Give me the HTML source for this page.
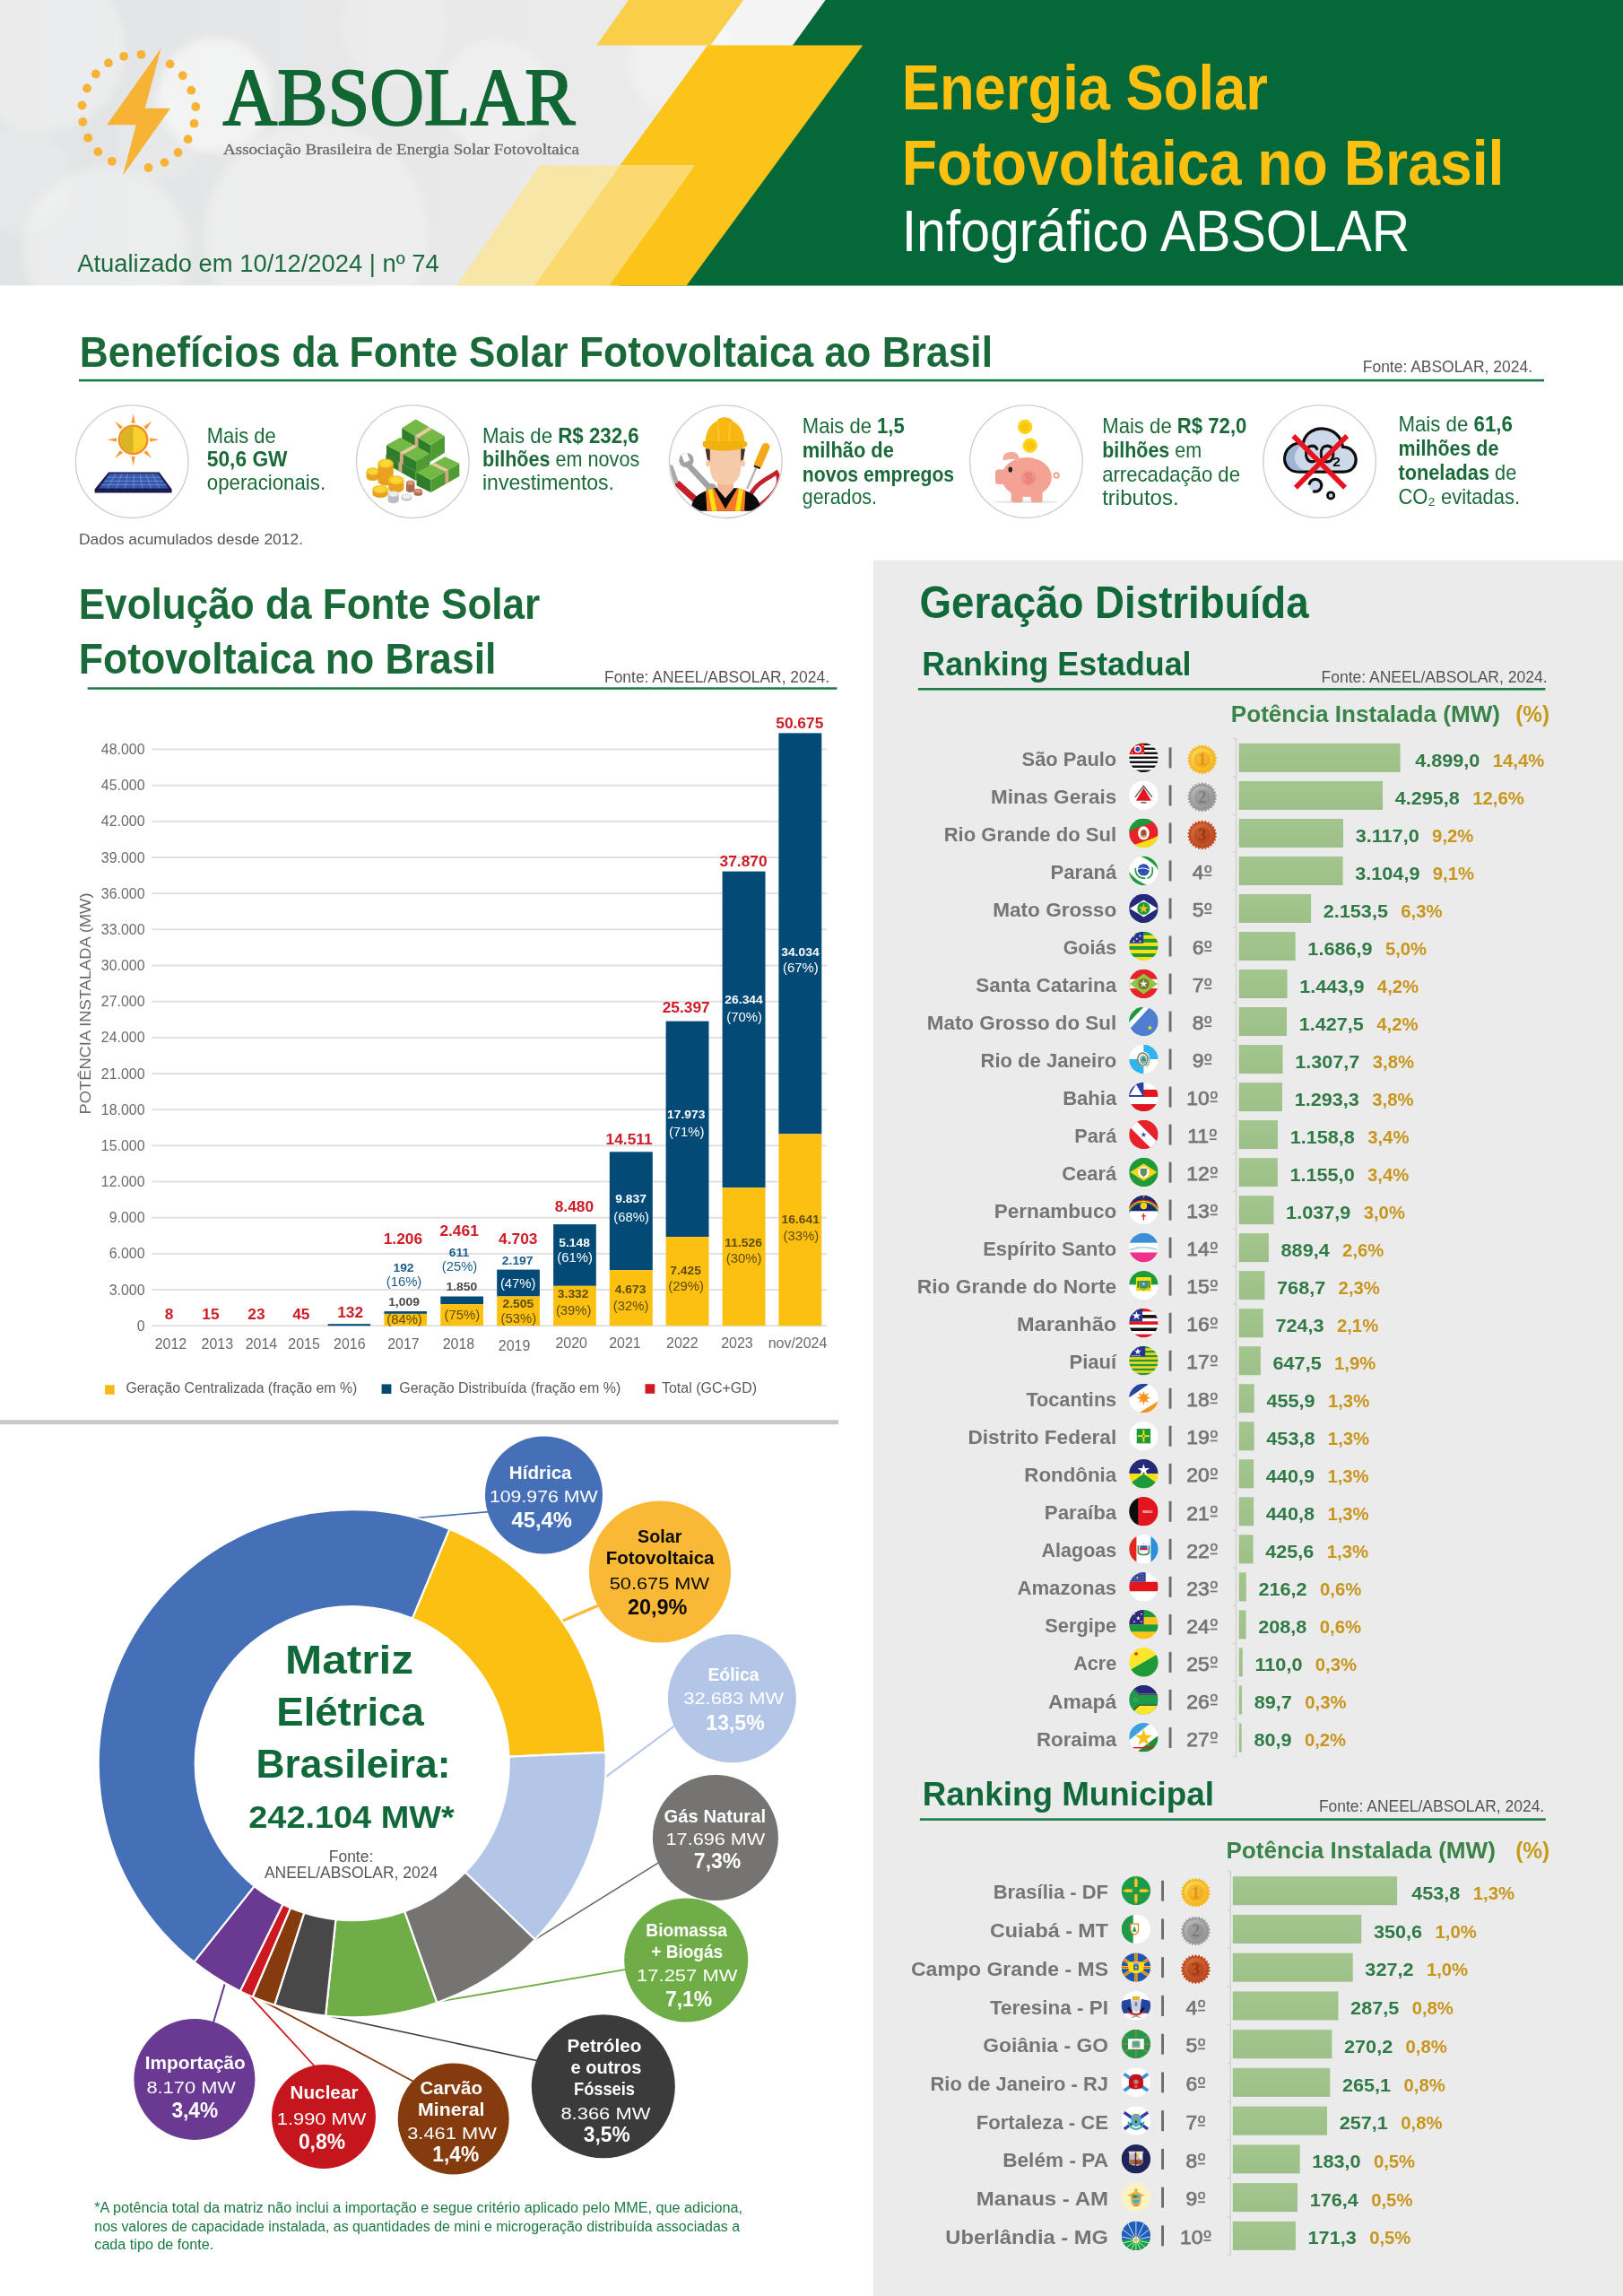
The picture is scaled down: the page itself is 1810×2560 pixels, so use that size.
<!DOCTYPE html>
<html lang="pt-BR"><head><meta charset="utf-8"><title>Energia Solar Fotovoltaica no Brasil - Infográfico ABSOLAR</title>
<style>html,body{margin:0;padding:0;background:#fff}svg{display:block;font-family:"Liberation Sans",sans-serif}</style></head>
<body>
<svg width="1810" height="2560" viewBox="0 0 1810 2560">
<rect width="1810" height="2560" fill="#fff"/>
<defs><linearGradient id="hbg" x1="0" y1="0" x2="1" y2="0"><stop offset="0" stop-color="#e2e3e4"/><stop offset=".45" stop-color="#ececed"/><stop offset="1" stop-color="#e6e7e8"/></linearGradient><clipPath id="hclip"><rect x="0" y="0" width="1810" height="318.5"/></clipPath><filter id="bk" x="-20%" y="-20%" width="140%" height="140%"><feGaussianBlur stdDeviation="5"/></filter></defs>
<g clip-path="url(#hclip)">
<rect x="0" y="0" width="1810" height="318.5" fill="url(#hbg)"/>
<g filter="url(#bk)"><circle cx="48" cy="54" r="93" fill="#fff" opacity="0.3"/>
<circle cx="118" cy="279" r="93" fill="#fff" opacity="0.3"/>
<circle cx="352" cy="262" r="125" fill="#fff" opacity="0.28"/>
<circle cx="240" cy="106" r="64" fill="#fff" opacity="0.5"/>
<circle cx="552" cy="106" r="62" fill="#fff" opacity="0.28"/>
<circle cx="440" cy="30" r="60" fill="#fff" opacity="0.2"/>
<circle cx="20" cy="200" r="60" fill="#fff" opacity="0.15"/>
<circle cx="640" cy="250" r="70" fill="#fff" opacity="0.2"/>
<circle cx="760" cy="70" r="60" fill="#fff" opacity="0.25"/>
<circle cx="180" cy="150" r="50" fill="#fff" opacity="0.12"/>
</g>
<polygon points="829.2,0 920.6,0 885.3,50.6 792.4,50.6" fill="#fff" opacity=".45"/>
<polygon points="920.6,0 1810,0 1810,319 690,319" fill="#056839"/>
<polygon points="701,0 829.2,0 792.4,50.6 665.2,50.6" fill="#f9cf4a"/>
<polygon points="789.2,50.6 962.2,50.6 765.2,319 678.7,319 774.8,184.2 691.5,184.2" fill="#fcc419"/>
<polygon points="691.5,184.2 774.8,184.2 678.7,319 595.3,319" fill="#fbd96e"/>
<polygon points="601.8,184.2 691.5,184.2 595.3,319 508.8,319" fill="#f8e6a6"/>
</g>
<circle cx="157.4" cy="60.8" r="4.9" fill="#f6b335"/>
<circle cx="138.1" cy="62.8" r="4.9" fill="#f6b335"/>
<circle cx="120.9" cy="70.2" r="4.9" fill="#f6b335"/>
<circle cx="106.8" cy="82.5" r="4.9" fill="#f6b335"/>
<circle cx="97" cy="98.5" r="4.9" fill="#f6b335"/>
<circle cx="91.5" cy="117.5" r="4.9" fill="#f6b335"/>
<circle cx="92.3" cy="136" r="4.9" fill="#f6b335"/>
<circle cx="98.2" cy="153.7" r="4.9" fill="#f6b335"/>
<circle cx="109.3" cy="169.2" r="4.9" fill="#f6b335"/>
<circle cx="124.8" cy="179.8" r="4.9" fill="#f6b335"/>
<circle cx="165.5" cy="187" r="4.9" fill="#f6b335"/>
<circle cx="183.5" cy="181.1" r="4.9" fill="#f6b335"/>
<circle cx="198.5" cy="170" r="4.9" fill="#f6b335"/>
<circle cx="209.6" cy="155.2" r="4.9" fill="#f6b335"/>
<circle cx="216.5" cy="137.7" r="4.9" fill="#f6b335"/>
<circle cx="218.2" cy="119" r="4.9" fill="#f6b335"/>
<circle cx="213.3" cy="100.7" r="4.9" fill="#f6b335"/>
<circle cx="203.7" cy="84.2" r="4.9" fill="#f6b335"/>
<circle cx="189.6" cy="71.4" r="4.9" fill="#f6b335"/>
<polygon points="179.5,53.9 119.2,139.2 151.7,139.2 137.1,195.6 190.1,120.7 161.8,120.7" fill="#f6b335"/>
<text x="248.5" y="139.2" font-size="91" font-family="Liberation Serif" fill="#116634" textLength="393" lengthAdjust="spacingAndGlyphs" stroke="#116634" stroke-width="2">ABSOLAR</text>
<text x="249" y="171.7" font-size="17.2" font-family="Liberation Serif" fill="#6b6b6b" textLength="397" lengthAdjust="spacingAndGlyphs" stroke="#6b6b6b" stroke-width=".3">Associação Brasileira de Energia Solar Fotovoltaica</text>
<text x="86.2" y="303.3" font-size="27" fill="#1b6b3a" textLength="403.6" lengthAdjust="spacingAndGlyphs">Atualizado em 10/12/2024 | nº 74</text>
<text x="1005.7" y="122.3" font-size="70" font-weight="bold" fill="#fdc010" textLength="408.2" lengthAdjust="spacingAndGlyphs">Energia Solar</text>
<text x="1005.7" y="206.2" font-size="70" font-weight="bold" fill="#fdc010" textLength="671.7" lengthAdjust="spacingAndGlyphs">Fotovoltaica no Brasil</text>
<text x="1005.7" y="279.8" font-size="64" fill="#fff" textLength="566.6" lengthAdjust="spacingAndGlyphs">Infográfico ABSOLAR</text>
<text x="88.8" y="409.2" font-size="47.8" font-weight="bold" fill="#1a6a39" textLength="1018.2" lengthAdjust="spacingAndGlyphs">Benefícios da Fonte Solar Fotovoltaica ao Brasil</text>
<rect x="88" y="422.8" width="1634" height="2.6" fill="#1b7a43"/>
<text x="1709" y="414.8" font-size="17.5" fill="#555" text-anchor="end" textLength="189.2" lengthAdjust="spacingAndGlyphs">Fonte: ABSOLAR, 2024.</text>
<text x="88" y="607" font-size="17" fill="#555" textLength="250" lengthAdjust="spacingAndGlyphs">Dados acumulados desde 2012.</text>
<circle cx="147.2" cy="514.7" r="62.8" fill="#fff" stroke="#cfcfcf" stroke-width="1.4"/>
<circle cx="460.3" cy="514.7" r="62.8" fill="#fff" stroke="#cfcfcf" stroke-width="1.4"/>
<circle cx="809.3" cy="514.7" r="62.8" fill="#fff" stroke="#cfcfcf" stroke-width="1.4"/>
<circle cx="1144.4" cy="514.7" r="62.8" fill="#fff" stroke="#cfcfcf" stroke-width="1.4"/>
<circle cx="1471.6" cy="514.7" r="62.8" fill="#fff" stroke="#cfcfcf" stroke-width="1.4"/>
<text x="230.8" y="494.2" font-size="23.2" fill="#1a6a39" textLength="76.9" lengthAdjust="spacingAndGlyphs">Mais de</text>
<text x="230.8" y="520" font-size="23.2" fill="#1a6a39" textLength="89.8" lengthAdjust="spacingAndGlyphs"><tspan font-weight="bold">50,6 GW</tspan></text>
<text x="230.8" y="545.9" font-size="23.2" fill="#1a6a39" textLength="132.3" lengthAdjust="spacingAndGlyphs">operacionais.</text>
<text x="538" y="494.2" font-size="23.2" fill="#1a6a39" textLength="174.7" lengthAdjust="spacingAndGlyphs">Mais de <tspan font-weight="bold">R$ 232,6</tspan></text>
<text x="538" y="520.2" font-size="23.2" fill="#1a6a39" textLength="175.2" lengthAdjust="spacingAndGlyphs"><tspan font-weight="bold">bilhões</tspan> em novos</text>
<text x="538" y="546.3" font-size="23.2" fill="#1a6a39" textLength="147" lengthAdjust="spacingAndGlyphs">investimentos.</text>
<text x="894.8" y="482.8" font-size="23.2" fill="#1a6a39" textLength="113.9" lengthAdjust="spacingAndGlyphs">Mais de <tspan font-weight="bold">1,5</tspan></text>
<text x="894.8" y="509.8" font-size="23.2" fill="#1a6a39" textLength="102.1" lengthAdjust="spacingAndGlyphs"><tspan font-weight="bold">milhão de</tspan></text>
<text x="894.8" y="536.5" font-size="23.2" fill="#1a6a39" textLength="169.3" lengthAdjust="spacingAndGlyphs"><tspan font-weight="bold">novos empregos</tspan></text>
<text x="894.8" y="562.3" font-size="23.2" fill="#1a6a39" textLength="83.2" lengthAdjust="spacingAndGlyphs">gerados.</text>
<text x="1229.2" y="483.2" font-size="23.2" fill="#1a6a39" textLength="161.2" lengthAdjust="spacingAndGlyphs">Mais de <tspan font-weight="bold">R$ 72,0</tspan></text>
<text x="1229.2" y="509.8" font-size="23.2" fill="#1a6a39" textLength="110.9" lengthAdjust="spacingAndGlyphs"><tspan font-weight="bold">bilhões</tspan> em</text>
<text x="1229.2" y="536.8" font-size="23.2" fill="#1a6a39" textLength="153.8" lengthAdjust="spacingAndGlyphs">arrecadação de</text>
<text x="1229.2" y="563.4" font-size="23.2" fill="#1a6a39" textLength="85.4" lengthAdjust="spacingAndGlyphs">tributos.</text>
<text x="1559.4" y="481.3" font-size="23.2" fill="#1a6a39" textLength="127.5" lengthAdjust="spacingAndGlyphs">Mais de <tspan font-weight="bold">61,6</tspan></text>
<text x="1559.4" y="508" font-size="23.2" fill="#1a6a39" textLength="112" lengthAdjust="spacingAndGlyphs"><tspan font-weight="bold">milhões de</tspan></text>
<text x="1559.4" y="534.9" font-size="23.2" fill="#1a6a39" textLength="131.9" lengthAdjust="spacingAndGlyphs"><tspan font-weight="bold">toneladas</tspan> de</text>
<text x="1559.4" y="561.6" font-size="23.2" fill="#1a6a39" textLength="135.6" lengthAdjust="spacingAndGlyphs">CO₂ evitadas.</text>
<polygon points="148.6,461.3 150.7,471.7 146.5,471.7" fill="#f49a2f"/>
<polygon points="169.11,469.79 163.24,478.63 160.27,475.66" fill="#f49a2f"/>
<polygon points="177.6,490.3 167.2,492.4 167.2,488.2" fill="#f49a2f"/>
<polygon points="169.11,510.81 160.27,504.94 163.24,501.97" fill="#f49a2f"/>
<polygon points="148.6,519.3 146.5,508.9 150.7,508.9" fill="#f49a2f"/>
<polygon points="128.09,510.81 133.96,501.97 136.93,504.94" fill="#f49a2f"/>
<polygon points="119.6,490.3 130,488.2 130,492.4" fill="#f49a2f"/>
<polygon points="128.09,469.79 136.93,475.66 133.96,478.63" fill="#f49a2f"/>
<circle cx="148.6" cy="490.3" r="16.9" fill="#f28f2a"/>
<circle cx="148.6" cy="490.3" r="14.6" fill="#fad02c"/>
<path d="M148.6,475.7 A14.6,14.6 0 0 0 148.6,504.9 Z" fill="#d9b526"/>
<polygon points="121,526.5 177.6,526.5 191.6,545.6 191.6,549.4 105.6,549.4 105.6,545.6" fill="#1c1b4d"/>
<polygon points="122.3,528 176.3,528 188,544.6 110.2,544.6" fill="#3557ad"/>
<line x1="119.28" y1="532.15" x2="179.23" y2="532.15" stroke="#8fa8e0" stroke-width="0.6"/>
<line x1="116.25" y1="536.3" x2="182.15" y2="536.3" stroke="#8fa8e0" stroke-width="0.6"/>
<line x1="113.22" y1="540.45" x2="185.07" y2="540.45" stroke="#8fa8e0" stroke-width="0.6"/>
<line x1="129.05" y1="528" x2="119.92" y2="544.6" stroke="#8fa8e0" stroke-width="0.6"/>
<line x1="135.8" y1="528" x2="129.65" y2="544.6" stroke="#8fa8e0" stroke-width="0.6"/>
<line x1="142.55" y1="528" x2="139.38" y2="544.6" stroke="#8fa8e0" stroke-width="0.6"/>
<line x1="149.3" y1="528" x2="149.1" y2="544.6" stroke="#8fa8e0" stroke-width="0.6"/>
<line x1="156.05" y1="528" x2="158.82" y2="544.6" stroke="#8fa8e0" stroke-width="0.6"/>
<line x1="162.8" y1="528" x2="168.55" y2="544.6" stroke="#8fa8e0" stroke-width="0.6"/>
<line x1="169.55" y1="528" x2="178.28" y2="544.6" stroke="#8fa8e0" stroke-width="0.6"/>
<polygon points="448.22,477.35 480.14,496.32 480.14,514.87 448.22,495.89" fill="#2f7d2b"/>
<polygon points="480.14,496.32 495.93,486.23 495.93,504.78 480.14,514.87" fill="#4f9a33"/>
<polygon points="448.22,477.35 463.75,467.6 495.93,486.23 480.14,496.32" fill="#74b845"/>
<polygon points="462.59,485.89 478.23,475.98 482.09,478.22 466.42,488.16" fill="#e8c9a0"/>
<polygon points="462.59,485.89 466.42,488.16 466.42,506.71 462.59,504.43" fill="#cfa984"/>
<polygon points="430.37,506.68 463.75,525.65 463.75,536 430.37,517.03" fill="#2f7d2b"/>
<polygon points="463.75,525.65 479.28,516.59 479.28,526.95 463.75,536" fill="#4f9a33"/>
<polygon points="430.37,506.68 446.07,497.62 479.28,516.59 463.75,525.65" fill="#74b845"/>
<polygon points="444.39,514.65 460.02,505.59 464,507.87 448.4,516.92" fill="#e8c9a0"/>
<polygon points="444.39,514.65 448.4,516.92 448.4,527.27 444.39,525" fill="#cfa984"/>
<polygon points="430.97,496.32 464.01,514.44 464.01,525.65 430.97,507.54" fill="#2f7d2b"/>
<polygon points="464.01,514.44 479.54,505.81 479.54,517.03 464.01,525.65" fill="#4f9a33"/>
<polygon points="430.97,496.32 446.5,487.87 479.54,505.81 464.01,514.44" fill="#74b845"/>
<polygon points="445.84,504.48 461.37,495.94 465.33,498.1 449.8,506.65" fill="#e8c9a0"/>
<polygon points="445.84,504.48 449.8,506.65 449.8,517.86 445.84,515.69" fill="#cfa984"/>
<polygon points="464.61,526.95 480.57,534.88 480.57,549.11 464.61,541.18" fill="#2f7d2b"/>
<polygon points="480.57,534.88 512.32,516.77 512.32,531 480.57,549.11" fill="#4f9a33"/>
<polygon points="464.61,526.95 496.27,509.26 512.32,516.77 480.57,534.88" fill="#74b845"/>
<polygon points="480.44,518.1 484.24,515.98 500.25,523.65 496.44,525.82" fill="#e8c9a0"/>
<polygon points="496.44,525.82 500.25,523.65 500.25,537.88 496.44,540.06" fill="#cfa984"/>
<path d="M408.55,525.65 v6.04 a7.33,4.31 0 0 0 14.66,0 v-6.04 z" fill="#e9a21f"/>
<ellipse cx="415.88" cy="525.65" rx="7.33" ry="4.31" fill="#f9c623"/>
<ellipse cx="415.88" cy="525.65" rx="5.13" ry="3.02" fill="#fbd83a"/>
<path d="M421.48,516.59 v19.84 a8.63,5.18 0 0 0 17.25,0 v-19.84 z" fill="#e9a21f"/>
<ellipse cx="430.11" cy="516.59" rx="8.63" ry="5.18" fill="#f9c623"/>
<ellipse cx="430.11" cy="516.59" rx="6.04" ry="3.62" fill="#fbd83a"/>
<path d="M433.13,535.14 v9.49 a8.63,5 0 0 0 17.25,0 v-9.49 z" fill="#e9a21f"/>
<ellipse cx="441.76" cy="535.14" rx="8.63" ry="5" fill="#f9c623"/>
<ellipse cx="441.76" cy="535.14" rx="6.04" ry="3.5" fill="#fbd83a"/>
<path d="M415.45,545.49 v5.18 a8.63,4.49 0 0 0 17.25,0 v-5.18 z" fill="#e9a21f"/>
<ellipse cx="424.07" cy="545.49" rx="8.63" ry="4.49" fill="#f9c623"/>
<ellipse cx="424.07" cy="545.49" rx="6.04" ry="3.14" fill="#fbd83a"/>
<path d="M452.97,538.16 v8.19 a4.74,2.76 0 0 0 9.49,0 v-8.19 z" fill="#b06a4f"/>
<ellipse cx="457.71" cy="538.16" rx="4.74" ry="2.76" fill="#c98566"/>
<ellipse cx="457.71" cy="538.16" rx="3.32" ry="1.93" fill="#d69a7c"/>
<path d="M461.59,547.22 v3.02 a4.74,2.59 0 0 0 9.49,0 v-3.02 z" fill="#b06a4f"/>
<ellipse cx="466.34" cy="547.22" rx="4.74" ry="2.59" fill="#c98566"/>
<ellipse cx="466.34" cy="547.22" rx="3.32" ry="1.81" fill="#d69a7c"/>
<path d="M432.7,550.67 v7.33 a6.04,3.28 0 0 0 12.08,0 v-7.33 z" fill="#b9bec6"/>
<ellipse cx="438.74" cy="550.67" rx="6.04" ry="3.28" fill="#d9dde2"/>
<ellipse cx="438.74" cy="550.67" rx="4.23" ry="2.29" fill="#eef1f4"/>
<path d="M447.36,553.69 v1.73 a6.04,3.11 0 0 0 12.08,0 v-1.73 z" fill="#b9bec6"/>
<ellipse cx="453.4" cy="553.69" rx="6.04" ry="3.11" fill="#d9dde2"/>
<ellipse cx="453.4" cy="553.69" rx="4.23" ry="2.17" fill="#eef1f4"/>
<clipPath id="wclip"><circle cx="809.3" cy="514.7" r="62"/></clipPath><g clip-path="url(#wclip)">
<path d="M837.47,551.1 C843.51,538.16 859.04,532.12 865.94,526.95 C871.98,535.57 867.66,548.51 847.82,563.17" fill="none" stroke="#c4202b" stroke-width="4.74" stroke-linecap="round"/>
<path d="M756.39,539.88 L774.5,556.27" stroke="#c4202b" stroke-width="7.33" stroke-linecap="round"/>
<path d="M748.19,520.91 L753.8,536.43" stroke="#a9a9a9" stroke-width="5.18" stroke-linecap="round"/>
<path d="M765.88,516.59 L791.76,544.2" stroke="#a3a3a3" stroke-width="6.47" stroke-linecap="round"/>
<circle cx="765.45" cy="513.14" r="8.19" fill="#a3a3a3"/>
<polygon points="759.84,507.11 765.88,504.52 769.33,513.14 763.29,515.73" fill="#fff"/>
<circle cx="793.48" cy="545.06" r="6.04" fill="#a3a3a3"/>
<path d="M843.51,520.91 L833.16,545.06" stroke="#b5b5b5" stroke-width="2.42"/>
<path d="M853.86,498.48 L845.67,517.46" stroke="#f5a81c" stroke-width="9.06" stroke-linecap="round"/>
<path d="M840.92,519.61 L847.82,522.2" stroke="#222" stroke-width="2.16"/>
<path d="M770.62,569.64 C771.05,552.82 781.4,548.51 796.93,544.2 L821.95,544.2 C837.47,548.51 847.82,552.82 848.25,569.64 Z" fill="#0a0a0a"/>
<polygon points="787.01,546.79 796.07,544.2 809.01,567.49 809.01,569.64 788.31,569.64" fill="#f47b2a"/>
<polygon points="831.43,546.79 822.38,544.2 809.01,567.49 809.01,569.64 830.14,569.64" fill="#f47b2a"/>
<polygon points="789.6,546.35 794.34,544.89 799.52,569.64 793.91,569.64" fill="#fbe10d"/>
<polygon points="828.85,546.35 824.1,544.89 819.79,569.64 825.4,569.64" fill="#fbe10d"/>
<polygon points="800.38,535.57 817.63,535.57 818.06,545.06 809.01,555.41 799.95,545.06" fill="#f0b896"/>
<polygon points="786.58,500.21 793.48,500.21 792.62,517.46 789.6,516.59" fill="#4a3020"/>
<polygon points="831,500.21 824.53,500.21 825.4,517.46 828.42,516.59" fill="#4a3020"/>
<path d="M791.76,500.21 L826.26,500.21 L826.26,522.63 C825.4,535.57 817.63,540.75 809.01,540.75 C800.38,540.75 792.62,535.57 791.76,522.63 Z" fill="#f6c9a9"/>
<ellipse cx="789.6" cy="516.59" rx="2.42" ry="3.88" fill="#f6c9a9"/><ellipse cx="828.42" cy="516.59" rx="2.42" ry="3.88" fill="#f6c9a9"/>
<path d="M786.58,494.6 C787.01,477.78 795.21,470.88 799.52,470.02 C800.38,463.55 815.91,463.55 817.2,470.02 C822.81,471.74 830.14,479.5 830.57,494.6 Z" fill="#f9b80f"/>
<path d="M800.38,470.88 L802.11,496.76 M814.18,470.88 L812.46,496.76" stroke="#f7d04a" stroke-width="1.21" fill="none"/>
<path d="M783.56,495.03 C783.13,491.58 785.72,491.58 788.31,492.01 L828.85,492.01 C833.16,491.58 834.02,494.17 833.16,496.76 C826.26,504.52 791.76,504.52 783.99,497.62 Z" fill="#f2b20d"/>
</g>
<ellipse cx="1144.01" cy="559.72" rx="36.23" ry="1.21" fill="#e3e3e3"/>
<circle cx="1143.14" cy="476.05" r="8.19" fill="#fbd51c"/><circle cx="1143.14" cy="476.05" r="5.35" fill="#f7c613"/>
<circle cx="1148.75" cy="496.76" r="8.19" fill="#fbd51c"/><circle cx="1148.75" cy="496.76" r="5.35" fill="#f7c613"/>
<circle cx="1178.08" cy="529.97" r="2.76" fill="none" stroke="#f4a293" stroke-width="1.9"/>
<rect x="1127.62" y="544.2" width="12.94" height="15.96" rx="2.59" fill="#f4a293"/>
<rect x="1149.61" y="544.2" width="12.94" height="15.96" rx="2.59" fill="#f4a293"/>
<ellipse cx="1144.87" cy="532.12" rx="28.03" ry="22" fill="#f4a293"/>
<rect x="1109.93" y="523.5" width="11.21" height="16.39" rx="3.88" fill="#f4a293"/>
<path d="M1118.99,513.14 C1116.4,505.38 1126.76,501.93 1133.66,505.38 C1137.11,507.97 1137.11,512.28 1135.38,514.01 C1130.21,510.56 1125.03,512.28 1118.99,513.14 Z" fill="#f6aa9c"/>
<ellipse cx="1126.76" cy="523.5" rx="2.24" ry="3.11" fill="#222"/>
<circle cx="1147.03" cy="532.98" r="8.19" fill="#ef9088"/>
<text x="1147.03" y="538.59" font-size="17" font-weight="bold" fill="#e77e78" text-anchor="middle">$</text>
<path d="M1448.31,526.08 C1425.88,526.08 1427.6,493.31 1453.48,493.31 C1458.66,470.88 1494.88,473.47 1497.47,498.48 C1516.45,498.48 1517.31,526.08 1498.34,526.08 Z" fill="#cdd8ea" stroke="#0d0d0d" stroke-width="3.28" stroke-linejoin="round"/>
<path d="M1448.31,524.36 C1428.47,524.36 1429.33,495.03 1454.34,495.03 C1441.4,501.07 1438.82,518.32 1455.21,524.36 Z" fill="#9fb5d4"/>
<text x="1454.17" y="515.9" font-size="29" fill="#0d0d0d" textLength="35" lengthAdjust="spacingAndGlyphs" stroke="#0d0d0d" stroke-width=".9">CO</text>
<text x="1486.26" y="519.87" font-size="15.5" font-weight="bold" fill="#0d0d0d">2</text>
<circle cx="1466.85" cy="541.18" r="6.9" fill="#cdd8ea" stroke="#0d0d0d" stroke-width="3.28" stroke-dasharray="34.5 8.88" transform="rotate(-175 1466.85 541.18)"/>
<circle cx="1484.1" cy="552.39" r="3.62" fill="#cdd8ea" stroke="#0d0d0d" stroke-width="2.76"/>
<path d="M1442.27,485.97 L1500.06,543.77 M1502.22,485.97 L1444.85,543.77" stroke="#e8131f" stroke-width="5.69"/>
<text x="87.7" y="689.9" font-size="47.8" font-weight="bold" fill="#1a6a39" textLength="514.6" lengthAdjust="spacingAndGlyphs">Evolução da Fonte Solar</text>
<text x="87.7" y="750.9" font-size="47.8" font-weight="bold" fill="#1a6a39" textLength="465.8" lengthAdjust="spacingAndGlyphs">Fotovoltaica no Brasil</text>
<rect x="97.7" y="766.3" width="835.7" height="2.5" fill="#1b7a43"/>
<text x="925" y="761.4" font-size="17.5" fill="#555" text-anchor="end" textLength="251" lengthAdjust="spacingAndGlyphs">Fonte: ANEEL/ABSOLAR, 2024.</text>
<rect x="169.3" y="1477.3" width="752.8" height="1.8" fill="#dedede"/>
<text x="161.5" y="1483.8" font-size="15.6" fill="#6a6a6a" text-anchor="end" textLength="8.85" lengthAdjust="spacingAndGlyphs">0</text>
<rect x="169.3" y="1437.13" width="752.8" height="1.8" fill="#dedede"/>
<text x="161.5" y="1443.63" font-size="15.6" fill="#6a6a6a" text-anchor="end" textLength="39.82" lengthAdjust="spacingAndGlyphs">3.000</text>
<rect x="169.3" y="1396.96" width="752.8" height="1.8" fill="#dedede"/>
<text x="161.5" y="1403.46" font-size="15.6" fill="#6a6a6a" text-anchor="end" textLength="39.82" lengthAdjust="spacingAndGlyphs">6.000</text>
<rect x="169.3" y="1356.79" width="752.8" height="1.8" fill="#dedede"/>
<text x="161.5" y="1363.29" font-size="15.6" fill="#6a6a6a" text-anchor="end" textLength="39.82" lengthAdjust="spacingAndGlyphs">9.000</text>
<rect x="169.3" y="1316.62" width="752.8" height="1.8" fill="#dedede"/>
<text x="161.5" y="1323.12" font-size="15.6" fill="#6a6a6a" text-anchor="end" textLength="48.67" lengthAdjust="spacingAndGlyphs">12.000</text>
<rect x="169.3" y="1276.45" width="752.8" height="1.8" fill="#dedede"/>
<text x="161.5" y="1282.95" font-size="15.6" fill="#6a6a6a" text-anchor="end" textLength="48.67" lengthAdjust="spacingAndGlyphs">15.000</text>
<rect x="169.3" y="1236.28" width="752.8" height="1.8" fill="#dedede"/>
<text x="161.5" y="1242.78" font-size="15.6" fill="#6a6a6a" text-anchor="end" textLength="48.67" lengthAdjust="spacingAndGlyphs">18.000</text>
<rect x="169.3" y="1196.11" width="752.8" height="1.8" fill="#dedede"/>
<text x="161.5" y="1202.61" font-size="15.6" fill="#6a6a6a" text-anchor="end" textLength="48.67" lengthAdjust="spacingAndGlyphs">21.000</text>
<rect x="169.3" y="1155.94" width="752.8" height="1.8" fill="#dedede"/>
<text x="161.5" y="1162.44" font-size="15.6" fill="#6a6a6a" text-anchor="end" textLength="48.67" lengthAdjust="spacingAndGlyphs">24.000</text>
<rect x="169.3" y="1115.77" width="752.8" height="1.8" fill="#dedede"/>
<text x="161.5" y="1122.27" font-size="15.6" fill="#6a6a6a" text-anchor="end" textLength="48.67" lengthAdjust="spacingAndGlyphs">27.000</text>
<rect x="169.3" y="1075.6" width="752.8" height="1.8" fill="#dedede"/>
<text x="161.5" y="1082.1" font-size="15.6" fill="#6a6a6a" text-anchor="end" textLength="48.67" lengthAdjust="spacingAndGlyphs">30.000</text>
<rect x="169.3" y="1035.43" width="752.8" height="1.8" fill="#dedede"/>
<text x="161.5" y="1041.93" font-size="15.6" fill="#6a6a6a" text-anchor="end" textLength="48.67" lengthAdjust="spacingAndGlyphs">33.000</text>
<rect x="169.3" y="995.26" width="752.8" height="1.8" fill="#dedede"/>
<text x="161.5" y="1001.76" font-size="15.6" fill="#6a6a6a" text-anchor="end" textLength="48.67" lengthAdjust="spacingAndGlyphs">36.000</text>
<rect x="169.3" y="955.09" width="752.8" height="1.8" fill="#dedede"/>
<text x="161.5" y="961.59" font-size="15.6" fill="#6a6a6a" text-anchor="end" textLength="48.67" lengthAdjust="spacingAndGlyphs">39.000</text>
<rect x="169.3" y="914.92" width="752.8" height="1.8" fill="#dedede"/>
<text x="161.5" y="921.42" font-size="15.6" fill="#6a6a6a" text-anchor="end" textLength="48.67" lengthAdjust="spacingAndGlyphs">42.000</text>
<rect x="169.3" y="874.75" width="752.8" height="1.8" fill="#dedede"/>
<text x="161.5" y="881.25" font-size="15.6" fill="#6a6a6a" text-anchor="end" textLength="48.67" lengthAdjust="spacingAndGlyphs">45.000</text>
<rect x="169.3" y="834.58" width="752.8" height="1.8" fill="#dedede"/>
<text x="161.5" y="841.08" font-size="15.6" fill="#6a6a6a" text-anchor="end" textLength="48.67" lengthAdjust="spacingAndGlyphs">48.000</text>
<text transform="translate(100.5,1119) rotate(-90)" font-size="17" fill="#6a6a6a" text-anchor="middle" textLength="247" lengthAdjust="spacingAndGlyphs">POTÊNCIA INSTALADA  (MW)</text>
<rect x="365.7" y="1476.2" width="47.4" height="2" fill="#044a77"/>
<rect x="428.4" y="1462.1" width="47.6" height="2.8" fill="#044a77"/>
<rect x="428.4" y="1464.9" width="47.6" height="13.3" fill="#fcc010"/>
<rect x="491.3" y="1445.5" width="47.7" height="8.6" fill="#044a77"/>
<rect x="491.3" y="1454.1" width="47.7" height="24.1" fill="#fcc010"/>
<rect x="554.2" y="1415.6" width="47.7" height="29.9" fill="#044a77"/>
<rect x="554.2" y="1445.5" width="47.7" height="32.7" fill="#fcc010"/>
<rect x="617.1" y="1365.1" width="47.7" height="68.7" fill="#044a77"/>
<rect x="617.1" y="1433.8" width="47.7" height="44.4" fill="#fcc010"/>
<rect x="679.8" y="1284.3" width="48" height="131.8" fill="#044a77"/>
<rect x="679.8" y="1416.1" width="48" height="62.1" fill="#fcc010"/>
<rect x="742.6" y="1138.6" width="47.9" height="240.5" fill="#044a77"/>
<rect x="742.6" y="1379.1" width="47.9" height="99.1" fill="#fcc010"/>
<rect x="805.6" y="971.6" width="47.9" height="352.7" fill="#044a77"/>
<rect x="805.6" y="1324.3" width="47.9" height="153.9" fill="#fcc010"/>
<rect x="868.4" y="817.4" width="47.9" height="447" fill="#044a77"/>
<rect x="868.4" y="1264.4" width="47.9" height="213.8" fill="#fcc010"/>
<text x="188.6" y="1470.5" font-size="17" font-weight="bold" fill="#cf1b26" text-anchor="middle" textLength="9.64" lengthAdjust="spacingAndGlyphs">8</text>
<text x="234.9" y="1470.5" font-size="17" font-weight="bold" fill="#cf1b26" text-anchor="middle" textLength="19.29" lengthAdjust="spacingAndGlyphs">15</text>
<text x="285.9" y="1470.5" font-size="17" font-weight="bold" fill="#cf1b26" text-anchor="middle" textLength="19.29" lengthAdjust="spacingAndGlyphs">23</text>
<text x="335.8" y="1470.5" font-size="17" font-weight="bold" fill="#cf1b26" text-anchor="middle" textLength="19.29" lengthAdjust="spacingAndGlyphs">45</text>
<text x="390.7" y="1468.5" font-size="17" font-weight="bold" fill="#cf1b26" text-anchor="middle" textLength="28.93" lengthAdjust="spacingAndGlyphs">132</text>
<text x="449.4" y="1386.7" font-size="17" font-weight="bold" fill="#cf1b26" text-anchor="middle" textLength="43.39" lengthAdjust="spacingAndGlyphs">1.206</text>
<text x="512.1" y="1377.9" font-size="17" font-weight="bold" fill="#cf1b26" text-anchor="middle" textLength="43.39" lengthAdjust="spacingAndGlyphs">2.461</text>
<text x="577.8" y="1387" font-size="17" font-weight="bold" fill="#cf1b26" text-anchor="middle" textLength="43.39" lengthAdjust="spacingAndGlyphs">4.703</text>
<text x="640.4" y="1350.7" font-size="17" font-weight="bold" fill="#cf1b26" text-anchor="middle" textLength="43.39" lengthAdjust="spacingAndGlyphs">8.480</text>
<text x="701.6" y="1276.4" font-size="17" font-weight="bold" fill="#cf1b26" text-anchor="middle" textLength="52.08" lengthAdjust="spacingAndGlyphs">14.511</text>
<text x="765.2" y="1129.3" font-size="17" font-weight="bold" fill="#cf1b26" text-anchor="middle" textLength="53.04" lengthAdjust="spacingAndGlyphs">25.397</text>
<text x="829.1" y="965.5" font-size="17" font-weight="bold" fill="#cf1b26" text-anchor="middle" textLength="53.04" lengthAdjust="spacingAndGlyphs">37.870</text>
<text x="891.8" y="811.9" font-size="17" font-weight="bold" fill="#cf1b26" text-anchor="middle" textLength="53.04" lengthAdjust="spacingAndGlyphs">50.675</text>
<text x="450" y="1418.1" font-size="13.6" font-weight="bold" fill="#1a5c8c" text-anchor="middle" textLength="23.15" lengthAdjust="spacingAndGlyphs">192</text>
<text x="450.5" y="1434.1" font-size="15" fill="#1a5c8c" text-anchor="middle" textLength="39.61" lengthAdjust="spacingAndGlyphs">(16%)</text>
<text x="450.5" y="1455.5" font-size="13.6" font-weight="bold" fill="#4a4a4a" text-anchor="middle" textLength="34.71" lengthAdjust="spacingAndGlyphs">1,009</text>
<text x="451" y="1475.5" font-size="15" fill="#5e4b12" text-anchor="middle" textLength="39.61" lengthAdjust="spacingAndGlyphs">(84%)</text>
<text x="512" y="1400.6" font-size="13.6" font-weight="bold" fill="#1a5c8c" text-anchor="middle" textLength="22.38" lengthAdjust="spacingAndGlyphs">611</text>
<text x="512.5" y="1416.7" font-size="15" fill="#1a5c8c" text-anchor="middle" textLength="39.61" lengthAdjust="spacingAndGlyphs">(25%)</text>
<text x="514.9" y="1438.6" font-size="13.6" font-weight="bold" fill="#4a4a4a" text-anchor="middle" textLength="34.71" lengthAdjust="spacingAndGlyphs">1.850</text>
<text x="515.4" y="1470.5" font-size="15" fill="#5e4b12" text-anchor="middle" textLength="39.61" lengthAdjust="spacingAndGlyphs">(75%)</text>
<text x="577.2" y="1409.7" font-size="13.6" font-weight="bold" fill="#1a5c8c" text-anchor="middle" textLength="34.71" lengthAdjust="spacingAndGlyphs">2.197</text>
<text x="577.7" y="1435.8" font-size="15" fill="#fff" text-anchor="middle" textLength="39.61" lengthAdjust="spacingAndGlyphs">(47%)</text>
<text x="577.8" y="1458" font-size="13.6" font-weight="bold" fill="#5e4b12" text-anchor="middle" textLength="34.71" lengthAdjust="spacingAndGlyphs">2.505</text>
<text x="578.3" y="1474.9" font-size="15" fill="#5e4b12" text-anchor="middle" textLength="39.61" lengthAdjust="spacingAndGlyphs">(53%)</text>
<text x="640.6" y="1389.5" font-size="13.6" font-weight="bold" fill="#fff" text-anchor="middle" textLength="34.71" lengthAdjust="spacingAndGlyphs">5.148</text>
<text x="641.1" y="1407.2" font-size="15" fill="#fff" text-anchor="middle" textLength="39.61" lengthAdjust="spacingAndGlyphs">(61%)</text>
<text x="703.6" y="1341.3" font-size="13.6" font-weight="bold" fill="#fff" text-anchor="middle" textLength="34.71" lengthAdjust="spacingAndGlyphs">9.837</text>
<text x="704.1" y="1361.8" font-size="15" fill="#fff" text-anchor="middle" textLength="39.61" lengthAdjust="spacingAndGlyphs">(68%)</text>
<text x="765.2" y="1246.9" font-size="13.6" font-weight="bold" fill="#fff" text-anchor="middle" textLength="42.43" lengthAdjust="spacingAndGlyphs">17.973</text>
<text x="765.7" y="1266.8" font-size="15" fill="#fff" text-anchor="middle" textLength="39.61" lengthAdjust="spacingAndGlyphs">(71%)</text>
<text x="829.6" y="1118.9" font-size="13.6" font-weight="bold" fill="#fff" text-anchor="middle" textLength="42.43" lengthAdjust="spacingAndGlyphs">26.344</text>
<text x="830.1" y="1138.8" font-size="15" fill="#fff" text-anchor="middle" textLength="39.61" lengthAdjust="spacingAndGlyphs">(70%)</text>
<text x="892.4" y="1065.5" font-size="13.6" font-weight="bold" fill="#fff" text-anchor="middle" textLength="42.43" lengthAdjust="spacingAndGlyphs">34.034</text>
<text x="892.9" y="1084.4" font-size="15" fill="#fff" text-anchor="middle" textLength="39.61" lengthAdjust="spacingAndGlyphs">(67%)</text>
<text x="639.2" y="1447.2" font-size="13.6" font-weight="bold" fill="#5e4b12" text-anchor="middle" textLength="34.71" lengthAdjust="spacingAndGlyphs">3.332</text>
<text x="639.7" y="1466" font-size="15" fill="#5e4b12" text-anchor="middle" textLength="39.61" lengthAdjust="spacingAndGlyphs">(39%)</text>
<text x="703.1" y="1441.6" font-size="13.6" font-weight="bold" fill="#5e4b12" text-anchor="middle" textLength="34.71" lengthAdjust="spacingAndGlyphs">4.673</text>
<text x="703.6" y="1460.5" font-size="15" fill="#5e4b12" text-anchor="middle" textLength="39.61" lengthAdjust="spacingAndGlyphs">(32%)</text>
<text x="764.6" y="1421" font-size="13.6" font-weight="bold" fill="#5e4b12" text-anchor="middle" textLength="34.71" lengthAdjust="spacingAndGlyphs">7.425</text>
<text x="765.1" y="1439.4" font-size="15" fill="#5e4b12" text-anchor="middle" textLength="39.61" lengthAdjust="spacingAndGlyphs">(29%)</text>
<text x="829.1" y="1389.5" font-size="13.6" font-weight="bold" fill="#5e4b12" text-anchor="middle" textLength="41.66" lengthAdjust="spacingAndGlyphs">11.526</text>
<text x="829.6" y="1408.3" font-size="15" fill="#5e4b12" text-anchor="middle" textLength="39.61" lengthAdjust="spacingAndGlyphs">(30%)</text>
<text x="892.8" y="1364" font-size="13.6" font-weight="bold" fill="#5e4b12" text-anchor="middle" textLength="42.43" lengthAdjust="spacingAndGlyphs">16.641</text>
<text x="893.3" y="1382.8" font-size="15" fill="#5e4b12" text-anchor="middle" textLength="39.61" lengthAdjust="spacingAndGlyphs">(33%)</text>
<text x="190.5" y="1503.7" font-size="16.3" fill="#6a6a6a" text-anchor="middle" textLength="35.54" lengthAdjust="spacingAndGlyphs">2012</text>
<text x="242.3" y="1503.7" font-size="16.3" fill="#6a6a6a" text-anchor="middle" textLength="35.54" lengthAdjust="spacingAndGlyphs">2013</text>
<text x="291.4" y="1503.7" font-size="16.3" fill="#6a6a6a" text-anchor="middle" textLength="35.54" lengthAdjust="spacingAndGlyphs">2014</text>
<text x="339.1" y="1503.7" font-size="16.3" fill="#6a6a6a" text-anchor="middle" textLength="35.54" lengthAdjust="spacingAndGlyphs">2015</text>
<text x="389.8" y="1503.7" font-size="16.3" fill="#6a6a6a" text-anchor="middle" textLength="35.54" lengthAdjust="spacingAndGlyphs">2016</text>
<text x="450" y="1503.7" font-size="16.3" fill="#6a6a6a" text-anchor="middle" textLength="35.54" lengthAdjust="spacingAndGlyphs">2017</text>
<text x="511.5" y="1503.7" font-size="16.3" fill="#6a6a6a" text-anchor="middle" textLength="35.54" lengthAdjust="spacingAndGlyphs">2018</text>
<text x="573.6" y="1506" font-size="16.3" fill="#6a6a6a" text-anchor="middle" textLength="35.54" lengthAdjust="spacingAndGlyphs">2019</text>
<text x="637.2" y="1503.3" font-size="16.3" fill="#6a6a6a" text-anchor="middle" textLength="35.54" lengthAdjust="spacingAndGlyphs">2020</text>
<text x="696.9" y="1503.3" font-size="16.3" fill="#6a6a6a" text-anchor="middle" textLength="35.54" lengthAdjust="spacingAndGlyphs">2021</text>
<text x="760.8" y="1503.3" font-size="16.3" fill="#6a6a6a" text-anchor="middle" textLength="35.54" lengthAdjust="spacingAndGlyphs">2022</text>
<text x="822" y="1503.3" font-size="16.3" fill="#6a6a6a" text-anchor="middle" textLength="35.54" lengthAdjust="spacingAndGlyphs">2023</text>
<text x="889.5" y="1503.3" font-size="16.3" fill="#6a6a6a" text-anchor="middle" textLength="65.73" lengthAdjust="spacingAndGlyphs">nov/2024</text>
<rect x="117.1" y="1544.2" width="10.6" height="10.6" fill="#fbb814"/>
<text x="140.4" y="1553.3" font-size="16" fill="#5a5a5a" textLength="257.9" lengthAdjust="spacingAndGlyphs">Geração Centralizada (fração em %)</text>
<rect x="425.6" y="1543.4" width="10.8" height="10.6" fill="#044a77"/>
<text x="445.3" y="1553.3" font-size="16" fill="#5a5a5a" textLength="246.9" lengthAdjust="spacingAndGlyphs">Geração Distribuída (fração em %)</text>
<rect x="719.5" y="1543.2" width="10.8" height="10.6" fill="#d11a22"/>
<text x="738" y="1553.3" font-size="16" fill="#5a5a5a" textLength="106" lengthAdjust="spacingAndGlyphs">Total (GC+GD)</text>
<rect x="0" y="1583.2" width="935" height="5" fill="#c9c9c9"/>
<line x1="464.5" y1="1692.5" x2="545" y2="1685.6" stroke="#4570b7" stroke-width="1.6"/>
<line x1="627.2" y1="1807.4" x2="668" y2="1789.8" stroke="#f9b934" stroke-width="3.2"/>
<line x1="674" y1="1982.4" x2="753" y2="1923.7" stroke="#b3c6e7" stroke-width="2"/>
<line x1="595.6" y1="2163.1" x2="736" y2="2075.9" stroke="#666" stroke-width="1.6"/>
<line x1="487.2" y1="2232.1" x2="698" y2="2195.9" stroke="#6fad46" stroke-width="1.8"/>
<line x1="336.9" y1="2241.5" x2="598.5" y2="2297.5" stroke="#3b3b3b" stroke-width="1.6"/>
<line x1="292.5" y1="2230.6" x2="461" y2="2320.8" stroke="#843c0f" stroke-width="1.8"/>
<line x1="276.7" y1="2223.2" x2="351.5" y2="2304.5" stroke="#cc1820" stroke-width="1.8"/>
<line x1="250.6" y1="2212.4" x2="238" y2="2255" stroke="#6a3992" stroke-width="2"/>
<path d="M216.53,2187.68 A283,283 0 0 1 501.46,1704.93 L459.95,1804.64 A175,175 0 0 0 283.76,2103.16 Z" fill="#4570b7" stroke="#fff" stroke-width="2.2" stroke-linejoin="round"/>
<path d="M501.46,1704.93 A283,283 0 0 1 675.43,1953.86 L567.53,1958.57 A175,175 0 0 0 459.95,1804.64 Z" fill="#fbc011" stroke="#fff" stroke-width="2.2" stroke-linejoin="round"/>
<path d="M675.43,1953.86 A283,283 0 0 1 596.62,2162.43 L518.8,2087.55 A175,175 0 0 0 567.53,1958.57 Z" fill="#b3c6e7" stroke="#fff" stroke-width="2.2" stroke-linejoin="round"/>
<path d="M596.62,2162.43 A283,283 0 0 1 487.17,2232.97 L451.12,2131.16 A175,175 0 0 0 518.8,2087.55 Z" fill="#757472" stroke="#fff" stroke-width="2.2" stroke-linejoin="round"/>
<path d="M487.17,2232.97 A283,283 0 0 1 363.12,2247.65 L374.41,2140.24 A175,175 0 0 0 451.12,2131.16 Z" fill="#6fad46" stroke="#fff" stroke-width="2.2" stroke-linejoin="round"/>
<path d="M363.12,2247.65 A283,283 0 0 1 306.19,2235.65 L339.2,2132.82 A175,175 0 0 0 374.41,2140.24 Z" fill="#484848" stroke="#fff" stroke-width="2.2" stroke-linejoin="round"/>
<path d="M306.19,2235.65 A283,283 0 0 1 281.67,2226.51 L324.04,2127.17 A175,175 0 0 0 339.2,2132.82 Z" fill="#843c0f" stroke="#fff" stroke-width="2.2" stroke-linejoin="round"/>
<path d="M281.67,2226.51 A283,283 0 0 1 267.75,2220.12 L315.44,2123.22 A175,175 0 0 0 324.04,2127.17 Z" fill="#cc1820" stroke="#fff" stroke-width="2.2" stroke-linejoin="round"/>
<path d="M267.75,2220.12 A283,283 0 0 1 216.53,2187.68 L283.76,2103.16 A175,175 0 0 0 315.44,2123.22 Z" fill="#6a3992" stroke="#fff" stroke-width="2.2" stroke-linejoin="round"/>
<text x="389.5" y="1866" font-size="44" font-weight="bold" fill="#11693a" text-anchor="middle" textLength="143" lengthAdjust="spacingAndGlyphs">Matriz</text>
<text x="390.5" y="1924.4" font-size="44" font-weight="bold" fill="#11693a" text-anchor="middle" textLength="164.4" lengthAdjust="spacingAndGlyphs">Elétrica</text>
<text x="394" y="1982.4" font-size="44" font-weight="bold" fill="#11693a" text-anchor="middle" textLength="216.9" lengthAdjust="spacingAndGlyphs">Brasileira:</text>
<text x="392" y="2037.6" font-size="34.5" font-weight="bold" fill="#11693a" text-anchor="middle" textLength="229.5" lengthAdjust="spacingAndGlyphs">242.104 MW*</text>
<text x="391.5" y="2075.8" font-size="18" fill="#555" text-anchor="middle" textLength="49.5" lengthAdjust="spacingAndGlyphs">Fonte:</text>
<text x="391.5" y="2094" font-size="18" fill="#555" text-anchor="middle" textLength="193.2" lengthAdjust="spacingAndGlyphs">ANEEL/ABSOLAR, 2024</text>
<circle cx="606.5" cy="1666.9" r="65.5" fill="#4570b7"/>
<text x="602.7" y="1649.1" font-size="20.5" font-weight="bold" fill="#fff" text-anchor="middle" textLength="69.7" lengthAdjust="spacingAndGlyphs">Hídrica</text>
<text x="606.3" y="1675" font-size="19" fill="#fff" text-anchor="middle" textLength="120.8" lengthAdjust="spacingAndGlyphs">109.976 MW</text>
<text x="604.2" y="1703.4" font-size="23" font-weight="bold" fill="#fff" text-anchor="middle" textLength="67.3" lengthAdjust="spacingAndGlyphs">45,4%</text>
<circle cx="736" cy="1752.5" r="79" fill="#f9b934"/>
<text x="735.7" y="1719.9" font-size="20.5" font-weight="bold" fill="#0b0b0b" text-anchor="middle" textLength="49.3" lengthAdjust="spacingAndGlyphs">Solar</text>
<text x="736.1" y="1744" font-size="20.5" font-weight="bold" fill="#0b0b0b" text-anchor="middle" textLength="120.8" lengthAdjust="spacingAndGlyphs">Fotovoltaica</text>
<text x="735.4" y="1772.4" font-size="19" fill="#0b0b0b" text-anchor="middle" textLength="111.4" lengthAdjust="spacingAndGlyphs">50.675 MW</text>
<text x="733.2" y="1800" font-size="23" font-weight="bold" fill="#0b0b0b" text-anchor="middle" textLength="66.5" lengthAdjust="spacingAndGlyphs">20,9%</text>
<circle cx="816.4" cy="1893.8" r="71.5" fill="#b3c6e7"/>
<text x="818" y="1874.2" font-size="20.5" font-weight="bold" fill="#fff" text-anchor="middle" textLength="57.2" lengthAdjust="spacingAndGlyphs">Eólica</text>
<text x="818.2" y="1900" font-size="19" fill="#fff" text-anchor="middle" textLength="111.9" lengthAdjust="spacingAndGlyphs">32.683 MW</text>
<text x="820" y="1928.9" font-size="23" font-weight="bold" fill="#fff" text-anchor="middle" textLength="65.3" lengthAdjust="spacingAndGlyphs">13,5%</text>
<circle cx="797.9" cy="2049" r="70" fill="#757472"/>
<text x="797.3" y="2031.9" font-size="20.5" font-weight="bold" fill="#fff" text-anchor="middle" textLength="113.4" lengthAdjust="spacingAndGlyphs">Gás Natural</text>
<text x="797.9" y="2056.5" font-size="19" fill="#fff" text-anchor="middle" textLength="110.7" lengthAdjust="spacingAndGlyphs">17.696 MW</text>
<text x="800.1" y="2082.9" font-size="23" font-weight="bold" fill="#fff" text-anchor="middle" textLength="52.5" lengthAdjust="spacingAndGlyphs">7,3%</text>
<circle cx="765.2" cy="2185.5" r="69" fill="#6fad46"/>
<text x="765.7" y="2159.1" font-size="20.5" font-weight="bold" fill="#fff" text-anchor="middle" textLength="90.7" lengthAdjust="spacingAndGlyphs">Biomassa</text>
<text x="766.2" y="2182.8" font-size="20.5" font-weight="bold" fill="#fff" text-anchor="middle" textLength="79.9" lengthAdjust="spacingAndGlyphs">+ Biogás</text>
<text x="766.3" y="2209.4" font-size="19" fill="#fff" text-anchor="middle" textLength="112.4" lengthAdjust="spacingAndGlyphs">17.257 MW</text>
<text x="768.1" y="2236.5" font-size="23" font-weight="bold" fill="#fff" text-anchor="middle" textLength="52.2" lengthAdjust="spacingAndGlyphs">7,1%</text>
<circle cx="672.8" cy="2326.2" r="80" fill="#3b3b3b"/>
<text x="674" y="2288.3" font-size="20.5" font-weight="bold" fill="#fff" text-anchor="middle" textLength="82.8" lengthAdjust="spacingAndGlyphs">Petróleo</text>
<text x="676" y="2312" font-size="20.5" font-weight="bold" fill="#fff" text-anchor="middle" textLength="78.9" lengthAdjust="spacingAndGlyphs">e outros</text>
<text x="674" y="2335.6" font-size="20.5" font-weight="bold" fill="#fff" text-anchor="middle" textLength="68" lengthAdjust="spacingAndGlyphs">Fósseis</text>
<text x="675.4" y="2362.7" font-size="19" fill="#fff" text-anchor="middle" textLength="100" lengthAdjust="spacingAndGlyphs">8.366 MW</text>
<text x="676.7" y="2388.3" font-size="23" font-weight="bold" fill="#fff" text-anchor="middle" textLength="51.8" lengthAdjust="spacingAndGlyphs">3,5%</text>
<circle cx="505.7" cy="2362.5" r="62" fill="#843c0f"/>
<text x="503.2" y="2335.1" font-size="20.5" font-weight="bold" fill="#fff" text-anchor="middle" textLength="69.5" lengthAdjust="spacingAndGlyphs">Carvão</text>
<text x="503.3" y="2358.8" font-size="20.5" font-weight="bold" fill="#fff" text-anchor="middle" textLength="74.4" lengthAdjust="spacingAndGlyphs">Mineral</text>
<text x="504" y="2384.9" font-size="19" fill="#fff" text-anchor="middle" textLength="99.6" lengthAdjust="spacingAndGlyphs">3.461 MW</text>
<text x="508.2" y="2409.5" font-size="23" font-weight="bold" fill="#fff" text-anchor="middle" textLength="51.8" lengthAdjust="spacingAndGlyphs">1,4%</text>
<circle cx="361" cy="2360" r="58" fill="#c5161d"/>
<text x="361.5" y="2340" font-size="20.5" font-weight="bold" fill="#fff" text-anchor="middle" textLength="75.9" lengthAdjust="spacingAndGlyphs">Nuclear</text>
<text x="358.6" y="2368.6" font-size="19" fill="#fff" text-anchor="middle" textLength="99.6" lengthAdjust="spacingAndGlyphs">1.990 MW</text>
<text x="359" y="2395.7" font-size="23" font-weight="bold" fill="#fff" text-anchor="middle" textLength="52.2" lengthAdjust="spacingAndGlyphs">0,8%</text>
<circle cx="216.9" cy="2318.4" r="67.5" fill="#6a3992"/>
<text x="217.8" y="2307" font-size="20.5" font-weight="bold" fill="#fff" text-anchor="middle" textLength="111.9" lengthAdjust="spacingAndGlyphs">Importação</text>
<text x="213.2" y="2334.1" font-size="19" fill="#fff" text-anchor="middle" textLength="99.6" lengthAdjust="spacingAndGlyphs">8.170 MW</text>
<text x="217.3" y="2361.2" font-size="23" font-weight="bold" fill="#fff" text-anchor="middle" textLength="51.8" lengthAdjust="spacingAndGlyphs">3,4%</text>
<text x="105.3" y="2467.3" font-size="15.6" fill="#1b7a43" textLength="722.7" lengthAdjust="spacingAndGlyphs">*A potência total da matriz não inclui a importação e segue critério aplicado pelo MME, que adiciona,</text>
<text x="105.3" y="2487.7" font-size="15.6" fill="#1b7a43" textLength="719.7" lengthAdjust="spacingAndGlyphs">nos valores de capacidade instalada, as quantidades de mini e microgeração distribuída associadas a</text>
<text x="105.3" y="2508.2" font-size="15.6" fill="#1b7a43" textLength="133" lengthAdjust="spacingAndGlyphs">cada tipo de fonte.</text>
<defs><clipPath id="fc"><circle r="16.2"/></clipPath><radialGradient id="md1" cx=".4" cy=".35" r=".75"><stop offset="0" stop-color="#fde565"/><stop offset="1" stop-color="#f5b01a"/></radialGradient><radialGradient id="md2" cx=".4" cy=".35" r=".75"><stop offset="0" stop-color="#c4c4c4"/><stop offset="1" stop-color="#8e8e8e"/></radialGradient><radialGradient id="md3" cx=".4" cy=".35" r=".75"><stop offset="0" stop-color="#de7a42"/><stop offset="1" stop-color="#b8431c"/></radialGradient><linearGradient id="barg" x1="0" y1="0" x2="0" y2="1"><stop offset="0" stop-color="#a2c68d"/><stop offset="1" stop-color="#9cc087"/></linearGradient></defs>
<rect x="973.9" y="624.6" width="840" height="1940" fill="#ebebeb"/>
<text x="1025.6" y="689.3" font-size="49.5" font-weight="bold" fill="#11693a" textLength="434" lengthAdjust="spacingAndGlyphs">Geração Distribuída</text>
<text x="1028.3" y="753" font-size="37.5" font-weight="bold" fill="#11693a" textLength="300.2" lengthAdjust="spacingAndGlyphs">Ranking Estadual</text>
<rect x="1023.9" y="767" width="699.5" height="2.6" fill="#1b7a43"/>
<text x="1725.5" y="761.4" font-size="17.5" fill="#555" text-anchor="end" textLength="252" lengthAdjust="spacingAndGlyphs">Fonte: ANEEL/ABSOLAR, 2024.</text>
<text x="1372.8" y="804.5" font-size="26" font-weight="bold" fill="#3b8449" textLength="300.2" lengthAdjust="spacingAndGlyphs">Potência Instalada (MW)</text>
<text x="1690.2" y="804.5" font-size="26" font-weight="bold" fill="#c79a1b" textLength="38" lengthAdjust="spacingAndGlyphs">(%)</text>
<rect x="1377.8" y="822.89" width="1.4" height="1136.54" fill="#d2d2d2"/>
<rect x="1375" y="823.19" width="3.5" height="1.4" fill="#d2d2d2"/>
<rect x="1375" y="865.21" width="3.5" height="1.4" fill="#d2d2d2"/>
<rect x="1375" y="907.23" width="3.5" height="1.4" fill="#d2d2d2"/>
<rect x="1375" y="949.25" width="3.5" height="1.4" fill="#d2d2d2"/>
<rect x="1375" y="991.27" width="3.5" height="1.4" fill="#d2d2d2"/>
<rect x="1375" y="1033.29" width="3.5" height="1.4" fill="#d2d2d2"/>
<rect x="1375" y="1075.31" width="3.5" height="1.4" fill="#d2d2d2"/>
<rect x="1375" y="1117.33" width="3.5" height="1.4" fill="#d2d2d2"/>
<rect x="1375" y="1159.35" width="3.5" height="1.4" fill="#d2d2d2"/>
<rect x="1375" y="1201.37" width="3.5" height="1.4" fill="#d2d2d2"/>
<rect x="1375" y="1243.39" width="3.5" height="1.4" fill="#d2d2d2"/>
<rect x="1375" y="1285.41" width="3.5" height="1.4" fill="#d2d2d2"/>
<rect x="1375" y="1327.43" width="3.5" height="1.4" fill="#d2d2d2"/>
<rect x="1375" y="1369.45" width="3.5" height="1.4" fill="#d2d2d2"/>
<rect x="1375" y="1411.47" width="3.5" height="1.4" fill="#d2d2d2"/>
<rect x="1375" y="1453.49" width="3.5" height="1.4" fill="#d2d2d2"/>
<rect x="1375" y="1495.51" width="3.5" height="1.4" fill="#d2d2d2"/>
<rect x="1375" y="1537.53" width="3.5" height="1.4" fill="#d2d2d2"/>
<rect x="1375" y="1579.55" width="3.5" height="1.4" fill="#d2d2d2"/>
<rect x="1375" y="1621.57" width="3.5" height="1.4" fill="#d2d2d2"/>
<rect x="1375" y="1663.59" width="3.5" height="1.4" fill="#d2d2d2"/>
<rect x="1375" y="1705.61" width="3.5" height="1.4" fill="#d2d2d2"/>
<rect x="1375" y="1747.63" width="3.5" height="1.4" fill="#d2d2d2"/>
<rect x="1375" y="1789.65" width="3.5" height="1.4" fill="#d2d2d2"/>
<rect x="1375" y="1831.67" width="3.5" height="1.4" fill="#d2d2d2"/>
<rect x="1375" y="1873.69" width="3.5" height="1.4" fill="#d2d2d2"/>
<rect x="1375" y="1915.71" width="3.5" height="1.4" fill="#d2d2d2"/>
<rect x="1375" y="1957.73" width="3.5" height="1.4" fill="#d2d2d2"/>
<text x="1245.2" y="854" font-size="22.3" font-weight="bold" fill="#757575" text-anchor="end" textLength="105.6" lengthAdjust="spacingAndGlyphs">São Paulo</text>
<g transform="translate(1275.4,844.8)"><g clip-path="url(#fc)">
<rect x="-16.2" y="-16.2" width="32.4" height="2.79" fill="#111"/>
<rect x="-16.2" y="-13.71" width="32.4" height="2.79" fill="#fff"/>
<rect x="-16.2" y="-11.22" width="32.4" height="2.79" fill="#111"/>
<rect x="-16.2" y="-8.72" width="32.4" height="2.79" fill="#fff"/>
<rect x="-16.2" y="-6.23" width="32.4" height="2.79" fill="#111"/>
<rect x="-16.2" y="-3.74" width="32.4" height="2.79" fill="#fff"/>
<rect x="-16.2" y="-1.25" width="32.4" height="2.79" fill="#111"/>
<rect x="-16.2" y="1.25" width="32.4" height="2.79" fill="#fff"/>
<rect x="-16.2" y="3.74" width="32.4" height="2.79" fill="#111"/>
<rect x="-16.2" y="6.23" width="32.4" height="2.79" fill="#fff"/>
<rect x="-16.2" y="8.72" width="32.4" height="2.79" fill="#111"/>
<rect x="-16.2" y="11.22" width="32.4" height="2.79" fill="#fff"/>
<rect x="-16.2" y="13.71" width="32.4" height="2.79" fill="#111"/>
<rect x="-16.2" y="-16.2" width="17" height="12.5" fill="#d8141e"/>
<circle cx="-6.5" cy="-9.5" r="4" fill="#fff"/>
<circle cx="-6.5" cy="-9.5" r="2.6" fill="#2b4fa8"/>
<circle cx="-13" cy="-5.5" r="0.9" fill="#f7d117"/>
<circle cx="-1" cy="-5.5" r="0.9" fill="#f7d117"/>
<circle cx="-1" cy="-13.5" r="0.9" fill="#f7d117"/>
</g></g>
<rect x="1303.6" y="833.4" width="2.9" height="23" fill="#6d6d6d"/>
<g transform="translate(1340.7,846.9)"><polygon points="0,-16.8 1.74,-14.3 4.02,-16.31 5.11,-13.46 7.81,-14.88 8.18,-11.85 11.14,-12.57 10.78,-9.55 13.83,-9.54 12.75,-6.69 15.71,-5.96 13.98,-3.45 16.68,-2.03 14.4,0 16.68,2.03 13.98,3.45 15.71,5.96 12.75,6.69 13.83,9.54 10.78,9.55 11.14,12.57 8.18,11.85 7.81,14.88 5.11,13.46 4.02,16.31 1.74,14.3 0,16.8 -1.74,14.3 -4.02,16.31 -5.11,13.46 -7.81,14.88 -8.18,11.85 -11.14,12.57 -10.78,9.55 -13.83,9.54 -12.75,6.69 -15.71,5.96 -13.98,3.45 -16.68,2.03 -14.4,0 -16.68,-2.03 -13.98,-3.45 -15.71,-5.96 -12.75,-6.69 -13.83,-9.54 -10.78,-9.55 -11.14,-12.57 -8.18,-11.85 -7.81,-14.88 -5.11,-13.46 -4.02,-16.31 -1.74,-14.3" fill="#f7b51a"/>
<circle cx="0" cy="0" r="13.2" fill="url(#md1)"/>
<circle cx="0" cy="0" r="9.2" fill="#ec9a12" opacity=".55"/>
<text x="0" y="6.3" font-size="18" font-weight="bold" font-family="Liberation Serif" fill="#e58e10" text-anchor="middle">1</text>
</g>
<rect x="1381.7" y="828.9" width="179.9" height="32" fill="url(#barg)"/>
<text x="1578.23" y="854.5" font-size="20.6" font-weight="bold" fill="#2f7a45" textLength="72.17" lengthAdjust="spacingAndGlyphs">4.899,0</text>
<text x="1664.8" y="854.5" font-size="20.6" font-weight="bold" fill="#c8951d" textLength="57.53" lengthAdjust="spacingAndGlyphs">14,4%</text>
<text x="1245.2" y="896.02" font-size="22.3" font-weight="bold" fill="#757575" text-anchor="end" textLength="140.1" lengthAdjust="spacingAndGlyphs">Minas Gerais</text>
<g transform="translate(1275.4,886.82)"><g clip-path="url(#fc)">
<rect x="-16.2" y="-16.2" width="32.4" height="32.4" fill="#fff"/>
<path d="M-9.5,2 L0,-10.5 L9.5,2" fill="none" stroke="#555" stroke-width="1.3"/>
<polygon points="0,-8.5 8.5,6 -8.5,6" fill="#e3161f"/>
<rect x="-3" y="7.5" width="6" height="1.2" fill="#333"/>
</g></g>
<rect x="1303.6" y="875.42" width="2.9" height="23" fill="#6d6d6d"/>
<g transform="translate(1340.7,888.92)"><polygon points="0,-16.8 1.74,-14.3 4.02,-16.31 5.11,-13.46 7.81,-14.88 8.18,-11.85 11.14,-12.57 10.78,-9.55 13.83,-9.54 12.75,-6.69 15.71,-5.96 13.98,-3.45 16.68,-2.03 14.4,0 16.68,2.03 13.98,3.45 15.71,5.96 12.75,6.69 13.83,9.54 10.78,9.55 11.14,12.57 8.18,11.85 7.81,14.88 5.11,13.46 4.02,16.31 1.74,14.3 0,16.8 -1.74,14.3 -4.02,16.31 -5.11,13.46 -7.81,14.88 -8.18,11.85 -11.14,12.57 -10.78,9.55 -13.83,9.54 -12.75,6.69 -15.71,5.96 -13.98,3.45 -16.68,2.03 -14.4,0 -16.68,-2.03 -13.98,-3.45 -15.71,-5.96 -12.75,-6.69 -13.83,-9.54 -10.78,-9.55 -11.14,-12.57 -8.18,-11.85 -7.81,-14.88 -5.11,-13.46 -4.02,-16.31 -1.74,-14.3" fill="#9a9a9a"/>
<circle cx="0" cy="0" r="13.2" fill="url(#md2)"/>
<circle cx="0" cy="0" r="9.2" fill="#858585" opacity=".55"/>
<text x="0" y="6.3" font-size="18" font-weight="bold" font-family="Liberation Serif" fill="#7a7a7a" text-anchor="middle">2</text>
</g>
<rect x="1381.7" y="870.92" width="160.32" height="32" fill="url(#barg)"/>
<text x="1555.72" y="896.52" font-size="20.6" font-weight="bold" fill="#2f7a45" textLength="72.17" lengthAdjust="spacingAndGlyphs">4.295,8</text>
<text x="1642.29" y="896.52" font-size="20.6" font-weight="bold" fill="#c8951d" textLength="57.53" lengthAdjust="spacingAndGlyphs">12,6%</text>
<text x="1245.2" y="938.04" font-size="22.3" font-weight="bold" fill="#757575" text-anchor="end" textLength="192.5" lengthAdjust="spacingAndGlyphs">Rio Grande do Sul</text>
<g transform="translate(1275.4,928.84)"><g clip-path="url(#fc)">
<rect x="-16.2" y="-16.2" width="32.4" height="32.4" fill="#e8222a"/>
<polygon points="-16.2,-16.2 10,-16.2 -16.2,-1" fill="#1f9a3a"/>
<polygon points="-16.2,-16.2 16.2,-16.2 16.2,-14 -16.2,-3" fill="#1f9a3a"/>
<polygon points="16.2,16.2 -10,16.2 16.2,3" fill="#f8e017"/>
<polygon points="16.2,16.2 -16.2,16.2 -16.2,15 16.2,4" fill="#f8e017"/>
<ellipse cx="0" cy="0" rx="6.3" ry="7.5" fill="#fff"/>
<ellipse cx="0" cy="0.5" rx="3.6" ry="4.6" fill="#8c8f6a"/><rect x="-2" y="-3" width="4" height="5" fill="#c0392b"/>
<rect x="-3.3" y="3.2" width="6.6" height="1.3" fill="#d8b23a"/>
</g></g>
<rect x="1303.6" y="917.44" width="2.9" height="23" fill="#6d6d6d"/>
<g transform="translate(1340.7,930.94)"><polygon points="0,-16.8 1.74,-14.3 4.02,-16.31 5.11,-13.46 7.81,-14.88 8.18,-11.85 11.14,-12.57 10.78,-9.55 13.83,-9.54 12.75,-6.69 15.71,-5.96 13.98,-3.45 16.68,-2.03 14.4,0 16.68,2.03 13.98,3.45 15.71,5.96 12.75,6.69 13.83,9.54 10.78,9.55 11.14,12.57 8.18,11.85 7.81,14.88 5.11,13.46 4.02,16.31 1.74,14.3 0,16.8 -1.74,14.3 -4.02,16.31 -5.11,13.46 -7.81,14.88 -8.18,11.85 -11.14,12.57 -10.78,9.55 -13.83,9.54 -12.75,6.69 -15.71,5.96 -13.98,3.45 -16.68,2.03 -14.4,0 -16.68,-2.03 -13.98,-3.45 -15.71,-5.96 -12.75,-6.69 -13.83,-9.54 -10.78,-9.55 -11.14,-12.57 -8.18,-11.85 -7.81,-14.88 -5.11,-13.46 -4.02,-16.31 -1.74,-14.3" fill="#c04a20"/>
<circle cx="0" cy="0" r="13.2" fill="url(#md3)"/>
<circle cx="0" cy="0" r="9.2" fill="#ad3c18" opacity=".55"/>
<text x="0" y="6.3" font-size="18" font-weight="bold" font-family="Liberation Serif" fill="#9a3514" text-anchor="middle">3</text>
</g>
<rect x="1381.7" y="912.94" width="116.33" height="32" fill="url(#barg)"/>
<text x="1511.73" y="938.54" font-size="20.6" font-weight="bold" fill="#2f7a45" textLength="70.98" lengthAdjust="spacingAndGlyphs">3.117,0</text>
<text x="1597.1" y="938.54" font-size="20.6" font-weight="bold" fill="#c8951d" textLength="46.25" lengthAdjust="spacingAndGlyphs">9,2%</text>
<text x="1245.2" y="980.06" font-size="22.3" font-weight="bold" fill="#757575" text-anchor="end" textLength="73.6" lengthAdjust="spacingAndGlyphs">Paraná</text>
<g transform="translate(1275.4,970.86)"><g clip-path="url(#fc)">
<rect x="-16.2" y="-16.2" width="32.4" height="32.4" fill="#fff"/>
<path d="M-6,-17 C4,-13 12,-8 17,0 L18,-18 Z" fill="#1f9a3a"/>
<path d="M6,17 C-4,13 -12,8 -17,0 L-18,18 Z" fill="#1f9a3a"/>
<circle cx="0" cy="-1" r="6.6" fill="#2a4fb0"/>
<path d="M-6.6,-1.5 C-3,-3.5 3,-3.5 6.6,-0.5" fill="none" stroke="#fff" stroke-width="1.1"/>
<circle cx="-2" cy="-4.5" r="0.45" fill="#fff"/>
<circle cx="2" cy="1.5" r="0.45" fill="#fff"/>
<circle cx="-3" cy="2" r="0.45" fill="#fff"/>
<circle cx="0" cy="4" r="0.45" fill="#fff"/>
<circle cx="3" cy="-2.5" r="0.45" fill="#fff"/>
<path d="M-9,-3 C-10,5 -4,9 2,8.5 M9.5,-4 C11,3 8,7 4,8.5" fill="none" stroke="#1f9a3a" stroke-width="1.6"/>
</g></g>
<rect x="1303.6" y="959.46" width="2.9" height="23" fill="#6d6d6d"/>
<text x="1329.74" y="980.16" font-size="22" fill="#757575" textLength="12.73" lengthAdjust="spacingAndGlyphs" stroke="#757575" stroke-width=".75">4</text>
<text x="1343.06" y="972.96" font-size="15.5" fill="#757575" stroke="#757575" stroke-width=".6">o</text>
<rect x="1343.36" y="975.26" width="7.9" height="1.7" fill="#757575"/>
<rect x="1381.7" y="954.96" width="115.87" height="32" fill="url(#barg)"/>
<text x="1511.27" y="980.56" font-size="20.6" font-weight="bold" fill="#2f7a45" textLength="72.17" lengthAdjust="spacingAndGlyphs">3.104,9</text>
<text x="1597.84" y="980.56" font-size="20.6" font-weight="bold" fill="#c8951d" textLength="46.25" lengthAdjust="spacingAndGlyphs">9,1%</text>
<text x="1245.2" y="1022.08" font-size="22.3" font-weight="bold" fill="#757575" text-anchor="end" textLength="138" lengthAdjust="spacingAndGlyphs">Mato Grosso</text>
<g transform="translate(1275.4,1012.88)"><g clip-path="url(#fc)">
<rect x="-16.2" y="-16.2" width="32.4" height="32.4" fill="#26297a"/>
<polygon points="-15.5,0 0,-9.5 15.5,0 0,9.5" fill="#fff"/>
<circle cx="0" cy="0" r="7.2" fill="#1f9a3a"/>
<polygon points="0,-5.3 1.26,-1.43 5.33,-1.43 2.03,0.96 3.29,4.83 0,2.44 -3.29,4.83 -2.03,0.96 -5.33,-1.43 -1.26,-1.43" fill="#f7c617"/>
</g></g>
<rect x="1303.6" y="1001.48" width="2.9" height="23" fill="#6d6d6d"/>
<text x="1329.74" y="1022.18" font-size="22" fill="#757575" textLength="12.73" lengthAdjust="spacingAndGlyphs" stroke="#757575" stroke-width=".75">5</text>
<text x="1343.06" y="1014.98" font-size="15.5" fill="#757575" stroke="#757575" stroke-width=".6">o</text>
<rect x="1343.36" y="1017.28" width="7.9" height="1.7" fill="#757575"/>
<rect x="1381.7" y="996.98" width="80.37" height="32" fill="url(#barg)"/>
<text x="1475.77" y="1022.58" font-size="20.6" font-weight="bold" fill="#2f7a45" textLength="72.17" lengthAdjust="spacingAndGlyphs">2.153,5</text>
<text x="1562.34" y="1022.58" font-size="20.6" font-weight="bold" fill="#c8951d" textLength="46.25" lengthAdjust="spacingAndGlyphs">6,3%</text>
<text x="1245.2" y="1064.1" font-size="22.3" font-weight="bold" fill="#757575" text-anchor="end" textLength="59.5" lengthAdjust="spacingAndGlyphs">Goiás</text>
<g transform="translate(1275.4,1054.9)"><g clip-path="url(#fc)">
<rect x="-16.2" y="-16.2" width="32.4" height="4.35" fill="#1f9a3a"/>
<rect x="-16.2" y="-12.15" width="32.4" height="4.35" fill="#f8e017"/>
<rect x="-16.2" y="-8.1" width="32.4" height="4.35" fill="#1f9a3a"/>
<rect x="-16.2" y="-4.05" width="32.4" height="4.35" fill="#f8e017"/>
<rect x="-16.2" y="0" width="32.4" height="4.35" fill="#1f9a3a"/>
<rect x="-16.2" y="4.05" width="32.4" height="4.35" fill="#f8e017"/>
<rect x="-16.2" y="8.1" width="32.4" height="4.35" fill="#1f9a3a"/>
<rect x="-16.2" y="12.15" width="32.4" height="4.35" fill="#f8e017"/>
<rect x="-16.2" y="-16.2" width="16" height="13" fill="#26348f"/>
<polygon points="-11,-13.1 -10.64,-11.99 -9.48,-11.99 -10.42,-11.31 -10.06,-10.21 -11,-10.89 -11.94,-10.21 -11.58,-11.31 -12.52,-11.99 -11.36,-11.99" fill="#fff"/>
<polygon points="-4,-13.1 -3.64,-11.99 -2.48,-11.99 -3.42,-11.31 -3.06,-10.21 -4,-10.89 -4.94,-10.21 -4.58,-11.31 -5.52,-11.99 -4.36,-11.99" fill="#fff"/>
<polygon points="-7.5,-9.6 -7.14,-8.49 -5.98,-8.49 -6.92,-7.81 -6.56,-6.71 -7.5,-7.39 -8.44,-6.71 -8.08,-7.81 -9.02,-8.49 -7.86,-8.49" fill="#fff"/>
<polygon points="-11,-7.1 -10.64,-5.99 -9.48,-5.99 -10.42,-5.31 -10.06,-4.21 -11,-4.89 -11.94,-4.21 -11.58,-5.31 -12.52,-5.99 -11.36,-5.99" fill="#fff"/>
<polygon points="-4,-7.1 -3.64,-5.99 -2.48,-5.99 -3.42,-5.31 -3.06,-4.21 -4,-4.89 -4.94,-4.21 -4.58,-5.31 -5.52,-5.99 -4.36,-5.99" fill="#fff"/>
</g></g>
<rect x="1303.6" y="1043.5" width="2.9" height="23" fill="#6d6d6d"/>
<text x="1329.74" y="1064.2" font-size="22" fill="#757575" textLength="12.73" lengthAdjust="spacingAndGlyphs" stroke="#757575" stroke-width=".75">6</text>
<text x="1343.06" y="1057" font-size="15.5" fill="#757575" stroke="#757575" stroke-width=".6">o</text>
<rect x="1343.36" y="1059.3" width="7.9" height="1.7" fill="#757575"/>
<rect x="1381.7" y="1039" width="62.96" height="32" fill="url(#barg)"/>
<text x="1458.36" y="1064.6" font-size="20.6" font-weight="bold" fill="#2f7a45" textLength="72.17" lengthAdjust="spacingAndGlyphs">1.686,9</text>
<text x="1544.92" y="1064.6" font-size="20.6" font-weight="bold" fill="#c8951d" textLength="46.25" lengthAdjust="spacingAndGlyphs">5,0%</text>
<text x="1245.2" y="1106.12" font-size="22.3" font-weight="bold" fill="#757575" text-anchor="end" textLength="156.9" lengthAdjust="spacingAndGlyphs">Santa Catarina</text>
<g transform="translate(1275.4,1096.92)"><g clip-path="url(#fc)">
<rect x="-16.2" y="-16.2" width="32.4" height="32.4" fill="#e8222a"/>
<rect x="-16.2" y="-5.2" width="32.4" height="10.4" fill="#fff"/>
<polygon points="-15.5,0 0,-11.5 15.5,0 0,11.5" fill="#8dc63f"/>
<circle cx="0" cy="0" r="6" fill="#c0392b"/>
<circle cx="0" cy="0" r="4.8" fill="#5f8f3a"/>
<polygon points="0,-4.8 0.94,-1.29 4.57,-1.48 1.52,0.49 2.82,3.88 0,1.6 -2.82,3.88 -1.52,0.49 -4.57,-1.48 -0.94,-1.29" fill="#fff"/>
</g></g>
<rect x="1303.6" y="1085.52" width="2.9" height="23" fill="#6d6d6d"/>
<text x="1329.74" y="1106.22" font-size="22" fill="#757575" textLength="12.73" lengthAdjust="spacingAndGlyphs" stroke="#757575" stroke-width=".75">7</text>
<text x="1343.06" y="1099.02" font-size="15.5" fill="#757575" stroke="#757575" stroke-width=".6">o</text>
<rect x="1343.36" y="1101.32" width="7.9" height="1.7" fill="#757575"/>
<rect x="1381.7" y="1081.02" width="53.89" height="32" fill="url(#barg)"/>
<text x="1449.29" y="1106.62" font-size="20.6" font-weight="bold" fill="#2f7a45" textLength="72.17" lengthAdjust="spacingAndGlyphs">1.443,9</text>
<text x="1535.85" y="1106.62" font-size="20.6" font-weight="bold" fill="#c8951d" textLength="46.25" lengthAdjust="spacingAndGlyphs">4,2%</text>
<text x="1245.2" y="1148.14" font-size="22.3" font-weight="bold" fill="#757575" text-anchor="end" textLength="211.4" lengthAdjust="spacingAndGlyphs">Mato Grosso do Sul</text>
<g transform="translate(1275.4,1138.94)"><g clip-path="url(#fc)">
<rect x="-16.2" y="-16.2" width="32.4" height="32.4" fill="#4f7ed0"/>
<polygon points="-16.2,-16.2 7,-16.2 -16.2,9" fill="#fff"/>
<polygon points="-16.2,-16.2 0,-16.2 -16.2,1" fill="#1f9a3a"/>
<polygon points="7,3.8 7.72,6.01 10.04,6.01 8.16,7.38 8.88,9.59 7,8.22 5.12,9.59 5.84,7.38 3.96,6.01 6.28,6.01" fill="#f7e017"/>
</g></g>
<rect x="1303.6" y="1127.54" width="2.9" height="23" fill="#6d6d6d"/>
<text x="1329.74" y="1148.24" font-size="22" fill="#757575" textLength="12.73" lengthAdjust="spacingAndGlyphs" stroke="#757575" stroke-width=".75">8</text>
<text x="1343.06" y="1141.04" font-size="15.5" fill="#757575" stroke="#757575" stroke-width=".6">o</text>
<rect x="1343.36" y="1143.34" width="7.9" height="1.7" fill="#757575"/>
<rect x="1381.7" y="1123.04" width="53.27" height="32" fill="url(#barg)"/>
<text x="1448.67" y="1148.64" font-size="20.6" font-weight="bold" fill="#2f7a45" textLength="72.17" lengthAdjust="spacingAndGlyphs">1.427,5</text>
<text x="1535.24" y="1148.64" font-size="20.6" font-weight="bold" fill="#c8951d" textLength="46.25" lengthAdjust="spacingAndGlyphs">4,2%</text>
<text x="1245.2" y="1190.16" font-size="22.3" font-weight="bold" fill="#757575" text-anchor="end" textLength="151.7" lengthAdjust="spacingAndGlyphs">Rio de Janeiro</text>
<g transform="translate(1275.4,1180.96)"><g clip-path="url(#fc)">
<rect x="-16.2" y="-16.2" width="32.4" height="32.4" fill="#fff"/>
<rect x="0" y="-16.2" width="16.2" height="16.2" fill="#2fb4ee"/>
<rect x="-16.2" y="0" width="16.2" height="16.2" fill="#2fb4ee"/>
<ellipse cx="0" cy="0" rx="7" ry="8.3" fill="#fff"/><ellipse cx="-1" cy="0" rx="5.6" ry="7" fill="none" stroke="#8a7a5a" stroke-width="1.5"/><ellipse cx="-0.5" cy="0.5" rx="3.8" ry="5" fill="#6fb6c8"/><polygon points="-3,2 0,-3 3,2" fill="#5b8a4a"/>
<path d="M4,-4 C8,0 7,5 3,8" fill="none" stroke="#3f8a3f" stroke-width="1.3" stroke-dasharray="1.5 1"/>
</g></g>
<rect x="1303.6" y="1169.56" width="2.9" height="23" fill="#6d6d6d"/>
<text x="1329.74" y="1190.26" font-size="22" fill="#757575" textLength="12.73" lengthAdjust="spacingAndGlyphs" stroke="#757575" stroke-width=".75">9</text>
<text x="1343.06" y="1183.06" font-size="15.5" fill="#757575" stroke="#757575" stroke-width=".6">o</text>
<rect x="1343.36" y="1185.36" width="7.9" height="1.7" fill="#757575"/>
<rect x="1381.7" y="1165.06" width="48.8" height="32" fill="url(#barg)"/>
<text x="1444.2" y="1190.66" font-size="20.6" font-weight="bold" fill="#2f7a45" textLength="72.17" lengthAdjust="spacingAndGlyphs">1.307,7</text>
<text x="1530.77" y="1190.66" font-size="20.6" font-weight="bold" fill="#c8951d" textLength="46.25" lengthAdjust="spacingAndGlyphs">3,8%</text>
<text x="1245.2" y="1232.18" font-size="22.3" font-weight="bold" fill="#757575" text-anchor="end" textLength="60" lengthAdjust="spacingAndGlyphs">Bahia</text>
<g transform="translate(1275.4,1222.98)"><g clip-path="url(#fc)">
<rect x="-16.2" y="-16.2" width="32.4" height="8.4" fill="#fff"/>
<rect x="-16.2" y="-8.1" width="32.4" height="8.4" fill="#e3161f"/>
<rect x="-16.2" y="0" width="32.4" height="8.4" fill="#fff"/>
<rect x="-16.2" y="8.1" width="32.4" height="8.4" fill="#e3161f"/>
<rect x="-16.2" y="-16.2" width="16.2" height="16.2" fill="#2443a4"/>
<polygon points="-8.5,-14 -1.5,-2 -15.5,-2" fill="#fff"/>
</g></g>
<rect x="1303.6" y="1211.58" width="2.9" height="23" fill="#6d6d6d"/>
<text x="1323.37" y="1232.28" font-size="22" fill="#757575" textLength="25.45" lengthAdjust="spacingAndGlyphs" stroke="#757575" stroke-width=".75">10</text>
<text x="1349.43" y="1225.08" font-size="15.5" fill="#757575" stroke="#757575" stroke-width=".6">o</text>
<rect x="1349.73" y="1227.38" width="7.9" height="1.7" fill="#757575"/>
<rect x="1381.7" y="1207.08" width="48.27" height="32" fill="url(#barg)"/>
<text x="1443.67" y="1232.68" font-size="20.6" font-weight="bold" fill="#2f7a45" textLength="72.17" lengthAdjust="spacingAndGlyphs">1.293,3</text>
<text x="1530.23" y="1232.68" font-size="20.6" font-weight="bold" fill="#c8951d" textLength="46.25" lengthAdjust="spacingAndGlyphs">3,8%</text>
<text x="1245.2" y="1274.2" font-size="22.3" font-weight="bold" fill="#757575" text-anchor="end" textLength="46.9" lengthAdjust="spacingAndGlyphs">Pará</text>
<g transform="translate(1275.4,1265)"><g clip-path="url(#fc)">
<rect x="-16.2" y="-16.2" width="32.4" height="32.4" fill="#e8222a"/>
<polygon points="-16.2,-9 -9,-16.2 16.2,9 9,16.2" fill="#fff"/>
<polygon points="-16.2,-8 -8,-16.2 -11,-19.2 -19.2,-11" fill="#fff"/>
<polygon points="16.2,8 8,16.2 11,19.2 19.2,11" fill="#fff"/>
<polygon points="0,-3.1 0.76,-0.75 3.23,-0.75 1.24,0.7 2,3.05 0,1.6 -2,3.05 -1.24,0.7 -3.23,-0.75 -0.76,-0.75" fill="#2b55a8"/>
</g></g>
<rect x="1303.6" y="1253.6" width="2.9" height="23" fill="#6d6d6d"/>
<text x="1324.22" y="1274.3" font-size="22" fill="#757575" textLength="23.75" lengthAdjust="spacingAndGlyphs" stroke="#757575" stroke-width=".75">11</text>
<text x="1348.58" y="1267.1" font-size="15.5" fill="#757575" stroke="#757575" stroke-width=".6">o</text>
<rect x="1348.88" y="1269.4" width="7.9" height="1.7" fill="#757575"/>
<rect x="1381.7" y="1249.1" width="43.25" height="32" fill="url(#barg)"/>
<text x="1438.65" y="1274.7" font-size="20.6" font-weight="bold" fill="#2f7a45" textLength="72.17" lengthAdjust="spacingAndGlyphs">1.158,8</text>
<text x="1525.21" y="1274.7" font-size="20.6" font-weight="bold" fill="#c8951d" textLength="46.25" lengthAdjust="spacingAndGlyphs">3,4%</text>
<text x="1245.2" y="1316.22" font-size="22.3" font-weight="bold" fill="#757575" text-anchor="end" textLength="61" lengthAdjust="spacingAndGlyphs">Ceará</text>
<g transform="translate(1275.4,1307.02)"><g clip-path="url(#fc)">
<rect x="-16.2" y="-16.2" width="32.4" height="32.4" fill="#1f9a3a"/>
<polygon points="-15,0 0,-9.8 15,0 0,9.8" fill="#f8d517"/>
<circle cx="0" cy="0" r="6.3" fill="#fff"/>
<path d="M-3.3,-3.8 h6.6 v4 c0,3 -3.3,4.4 -3.3,4.4 c0,0 -3.3,-1.4 -3.3,-4.4 z" fill="#4a9a6a" stroke="#8a6a4a" stroke-width=".8"/>
</g></g>
<rect x="1303.6" y="1295.62" width="2.9" height="23" fill="#6d6d6d"/>
<text x="1323.37" y="1316.32" font-size="22" fill="#757575" textLength="25.45" lengthAdjust="spacingAndGlyphs" stroke="#757575" stroke-width=".75">12</text>
<text x="1349.43" y="1309.12" font-size="15.5" fill="#757575" stroke="#757575" stroke-width=".6">o</text>
<rect x="1349.73" y="1311.42" width="7.9" height="1.7" fill="#757575"/>
<rect x="1381.7" y="1291.12" width="43.1" height="32" fill="url(#barg)"/>
<text x="1438.5" y="1316.72" font-size="20.6" font-weight="bold" fill="#2f7a45" textLength="72.17" lengthAdjust="spacingAndGlyphs">1.155,0</text>
<text x="1525.07" y="1316.72" font-size="20.6" font-weight="bold" fill="#c8951d" textLength="46.25" lengthAdjust="spacingAndGlyphs">3,4%</text>
<text x="1245.2" y="1358.24" font-size="22.3" font-weight="bold" fill="#757575" text-anchor="end" textLength="136.5" lengthAdjust="spacingAndGlyphs">Pernambuco</text>
<g transform="translate(1275.4,1349.04)"><g clip-path="url(#fc)">
<rect x="-16.2" y="-16.2" width="32.4" height="32.4" fill="#fff"/>
<rect x="-16.2" y="-16.2" width="32.4" height="17.5" fill="#1f2a6e"/>
<path d="M-17,-1.68 A20.4,20.4 0 0 1 17,-1.68" fill="none" stroke="#e3161f" stroke-width="1.4"/>
<path d="M-17,0.89 A19.1,19.1 0 0 1 17,0.89" fill="none" stroke="#f8d517" stroke-width="1.4"/>
<path d="M-17,4.32 A17.8,17.8 0 0 1 17,4.32" fill="none" stroke="#1f9a3a" stroke-width="1.4"/>
<circle cx="0" cy="-4.5" r="3.7" fill="#f8e017"/>
<circle cx="0" cy="-4.5" r="2.3" fill="#f2c617"/>
<polygon points="0,-15.9 0.31,-14.93 1.33,-14.93 0.51,-14.33 0.82,-13.37 0,-13.97 -0.82,-13.37 -0.51,-14.33 -1.33,-14.93 -0.31,-14.93" fill="#f8e017"/>
<rect x="-0.6" y="4" width="1.2" height="7.5" fill="#e3161f"/>
<rect x="-2.4" y="6.2" width="4.8" height="1.2" fill="#e3161f"/>
</g></g>
<rect x="1303.6" y="1337.64" width="2.9" height="23" fill="#6d6d6d"/>
<text x="1323.37" y="1358.34" font-size="22" fill="#757575" textLength="25.45" lengthAdjust="spacingAndGlyphs" stroke="#757575" stroke-width=".75">13</text>
<text x="1349.43" y="1351.14" font-size="15.5" fill="#757575" stroke="#757575" stroke-width=".6">o</text>
<rect x="1349.73" y="1353.44" width="7.9" height="1.7" fill="#757575"/>
<rect x="1381.7" y="1333.14" width="38.73" height="32" fill="url(#barg)"/>
<text x="1434.13" y="1358.74" font-size="20.6" font-weight="bold" fill="#2f7a45" textLength="72.17" lengthAdjust="spacingAndGlyphs">1.037,9</text>
<text x="1520.7" y="1358.74" font-size="20.6" font-weight="bold" fill="#c8951d" textLength="46.25" lengthAdjust="spacingAndGlyphs">3,0%</text>
<text x="1245.2" y="1400.26" font-size="22.3" font-weight="bold" fill="#757575" text-anchor="end" textLength="149" lengthAdjust="spacingAndGlyphs">Espírito Santo</text>
<g transform="translate(1275.4,1391.06)"><g clip-path="url(#fc)">
<rect x="-16.2" y="-16.2" width="32.4" height="11.1" fill="#3a8fd6"/>
<rect x="-16.2" y="-5.4" width="32.4" height="11.1" fill="#fff"/>
<rect x="-16.2" y="5.4" width="32.4" height="11.1" fill="#f0308c"/>
<path d="M-15,2.5 C-8,-1 8,-1 15,2.5" fill="none" stroke="#6fa0d0" stroke-width="1.2" stroke-dasharray="1.2 .5"/>
</g></g>
<rect x="1303.6" y="1379.66" width="2.9" height="23" fill="#6d6d6d"/>
<text x="1323.37" y="1400.36" font-size="22" fill="#757575" textLength="25.45" lengthAdjust="spacingAndGlyphs" stroke="#757575" stroke-width=".75">14</text>
<text x="1349.43" y="1393.16" font-size="15.5" fill="#757575" stroke="#757575" stroke-width=".6">o</text>
<rect x="1349.73" y="1395.46" width="7.9" height="1.7" fill="#757575"/>
<rect x="1381.7" y="1375.16" width="33.19" height="32" fill="url(#barg)"/>
<text x="1428.59" y="1400.76" font-size="20.6" font-weight="bold" fill="#2f7a45" textLength="54.13" lengthAdjust="spacingAndGlyphs">889,4</text>
<text x="1497.12" y="1400.76" font-size="20.6" font-weight="bold" fill="#c8951d" textLength="46.25" lengthAdjust="spacingAndGlyphs">2,6%</text>
<text x="1245.2" y="1442.28" font-size="22.3" font-weight="bold" fill="#757575" text-anchor="end" textLength="222.4" lengthAdjust="spacingAndGlyphs">Rio Grande do Norte</text>
<g transform="translate(1275.4,1433.08)"><g clip-path="url(#fc)">
<rect x="-16.2" y="-16.2" width="32.4" height="32.4" fill="#fff"/>
<rect x="-16.2" y="-16.2" width="32.4" height="15.5" fill="#1f9a3a"/>
<rect x="-8.5" y="-9" width="17" height="15.5" fill="#f8e017" rx="1.5"/>
<path d="M-5,-5 h10 v5 c0,4 -5,6 -5,6 c0,0 -5,-2 -5,-6 z" fill="#3a9a4a"/><circle cx="0" cy="-1.5" r="2.6" fill="#4f8fd6"/>
<polygon points="0,-3 0.34,-1.96 1.43,-1.96 0.54,-1.32 0.88,-0.29 0,-0.93 -0.88,-0.29 -0.54,-1.32 -1.43,-1.96 -0.34,-1.96" fill="#fff"/>
<rect x="-7" y="-5" width="1.6" height="8" fill="#2f7a2f"/>
<rect x="5.4" y="-5" width="1.6" height="8" fill="#2f7a2f"/>
<rect x="-6.5" y="3.5" width="13" height="1.6" fill="#e0b020"/>
</g></g>
<rect x="1303.6" y="1421.68" width="2.9" height="23" fill="#6d6d6d"/>
<text x="1323.37" y="1442.38" font-size="22" fill="#757575" textLength="25.45" lengthAdjust="spacingAndGlyphs" stroke="#757575" stroke-width=".75">15</text>
<text x="1349.43" y="1435.18" font-size="15.5" fill="#757575" stroke="#757575" stroke-width=".6">o</text>
<rect x="1349.73" y="1437.48" width="7.9" height="1.7" fill="#757575"/>
<rect x="1381.7" y="1417.18" width="28.69" height="32" fill="url(#barg)"/>
<text x="1424.09" y="1442.78" font-size="20.6" font-weight="bold" fill="#2f7a45" textLength="54.13" lengthAdjust="spacingAndGlyphs">768,7</text>
<text x="1492.62" y="1442.78" font-size="20.6" font-weight="bold" fill="#c8951d" textLength="46.25" lengthAdjust="spacingAndGlyphs">2,3%</text>
<text x="1245.2" y="1484.3" font-size="22.3" font-weight="bold" fill="#757575" text-anchor="end" textLength="111.3" lengthAdjust="spacingAndGlyphs">Maranhão</text>
<g transform="translate(1275.4,1475.1)"><g clip-path="url(#fc)">
<rect x="-16.2" y="-16.2" width="32.4" height="3.9" fill="#e3161f"/>
<rect x="-16.2" y="-12.6" width="32.4" height="3.9" fill="#fff"/>
<rect x="-16.2" y="-9" width="32.4" height="3.9" fill="#111"/>
<rect x="-16.2" y="-5.4" width="32.4" height="3.9" fill="#fff"/>
<rect x="-16.2" y="-1.8" width="32.4" height="3.9" fill="#e3161f"/>
<rect x="-16.2" y="1.8" width="32.4" height="3.9" fill="#fff"/>
<rect x="-16.2" y="5.4" width="32.4" height="3.9" fill="#111"/>
<rect x="-16.2" y="9" width="32.4" height="3.9" fill="#fff"/>
<rect x="-16.2" y="12.6" width="32.4" height="3.9" fill="#e3161f"/>
<rect x="-16.2" y="-16.2" width="14.8" height="14.6" fill="#26348f"/>
<polygon points="-8,-13.2 -6.83,-9.61 -3.05,-9.61 -6.11,-7.39 -4.94,-3.79 -8,-6.01 -11.06,-3.79 -9.89,-7.39 -12.95,-9.61 -9.17,-9.61" fill="#fff"/>
</g></g>
<rect x="1303.6" y="1463.7" width="2.9" height="23" fill="#6d6d6d"/>
<text x="1323.37" y="1484.4" font-size="22" fill="#757575" textLength="25.45" lengthAdjust="spacingAndGlyphs" stroke="#757575" stroke-width=".75">16</text>
<text x="1349.43" y="1477.2" font-size="15.5" fill="#757575" stroke="#757575" stroke-width=".6">o</text>
<rect x="1349.73" y="1479.5" width="7.9" height="1.7" fill="#757575"/>
<rect x="1381.7" y="1459.2" width="27.03" height="32" fill="url(#barg)"/>
<text x="1422.43" y="1484.8" font-size="20.6" font-weight="bold" fill="#2f7a45" textLength="54.13" lengthAdjust="spacingAndGlyphs">724,3</text>
<text x="1490.96" y="1484.8" font-size="20.6" font-weight="bold" fill="#c8951d" textLength="46.25" lengthAdjust="spacingAndGlyphs">2,1%</text>
<text x="1245.2" y="1526.32" font-size="22.3" font-weight="bold" fill="#757575" text-anchor="end" textLength="52.7" lengthAdjust="spacingAndGlyphs">Piauí</text>
<g transform="translate(1275.4,1517.12)"><g clip-path="url(#fc)">
<rect x="-16.2" y="-16.2" width="32.4" height="2.79" fill="#1f9a3a"/>
<rect x="-16.2" y="-13.71" width="32.4" height="2.79" fill="#f8d517"/>
<rect x="-16.2" y="-11.22" width="32.4" height="2.79" fill="#1f9a3a"/>
<rect x="-16.2" y="-8.72" width="32.4" height="2.79" fill="#f8d517"/>
<rect x="-16.2" y="-6.23" width="32.4" height="2.79" fill="#1f9a3a"/>
<rect x="-16.2" y="-3.74" width="32.4" height="2.79" fill="#f8d517"/>
<rect x="-16.2" y="-1.25" width="32.4" height="2.79" fill="#1f9a3a"/>
<rect x="-16.2" y="1.25" width="32.4" height="2.79" fill="#f8d517"/>
<rect x="-16.2" y="3.74" width="32.4" height="2.79" fill="#1f9a3a"/>
<rect x="-16.2" y="6.23" width="32.4" height="2.79" fill="#f8d517"/>
<rect x="-16.2" y="8.72" width="32.4" height="2.79" fill="#1f9a3a"/>
<rect x="-16.2" y="11.22" width="32.4" height="2.79" fill="#f8d517"/>
<rect x="-16.2" y="13.71" width="32.4" height="2.79" fill="#1f9a3a"/>
<rect x="-16.2" y="-16.2" width="18" height="11.5" fill="#26348f"/>
<polygon points="-6.5,-14.2 -5.6,-11.44 -2.7,-11.44 -5.05,-9.73 -4.15,-6.96 -6.5,-8.67 -8.85,-6.96 -7.95,-9.73 -10.3,-11.44 -7.4,-11.44" fill="#fff"/>
<rect x="-14" y="-6" width="11" height="1" fill="#8a9ad6"/>
</g></g>
<rect x="1303.6" y="1505.72" width="2.9" height="23" fill="#6d6d6d"/>
<text x="1323.37" y="1526.42" font-size="22" fill="#757575" textLength="25.45" lengthAdjust="spacingAndGlyphs" stroke="#757575" stroke-width=".75">17</text>
<text x="1349.43" y="1519.22" font-size="15.5" fill="#757575" stroke="#757575" stroke-width=".6">o</text>
<rect x="1349.73" y="1521.52" width="7.9" height="1.7" fill="#757575"/>
<rect x="1381.7" y="1501.22" width="24.16" height="32" fill="url(#barg)"/>
<text x="1419.56" y="1526.82" font-size="20.6" font-weight="bold" fill="#2f7a45" textLength="54.13" lengthAdjust="spacingAndGlyphs">647,5</text>
<text x="1488.09" y="1526.82" font-size="20.6" font-weight="bold" fill="#c8951d" textLength="46.25" lengthAdjust="spacingAndGlyphs">1,9%</text>
<text x="1245.2" y="1568.34" font-size="22.3" font-weight="bold" fill="#757575" text-anchor="end" textLength="100.8" lengthAdjust="spacingAndGlyphs">Tocantins</text>
<g transform="translate(1275.4,1559.14)"><g clip-path="url(#fc)">
<rect x="-16.2" y="-16.2" width="32.4" height="32.4" fill="#fff"/>
<polygon points="-16.2,-16.2 6,-16.2 -16.2,-2" fill="#26459e"/>
<polygon points="-16.2,-16.2 1,-18.2 6,-16.2 -16.2,-1" fill="#26459e"/>
<polygon points="16.2,16.2 -5,16.2 16.2,3" fill="#f7941d"/>
<circle cx="0" cy="-0.5" r="4.2" fill="#f7941d"/>
<polygon points="0,-8.5 1.38,-3.83 5.66,-6.16 3.33,-1.88 8,-0.5 3.33,0.88 5.66,5.16 1.38,2.83 0,7.5 -1.38,2.83 -5.66,5.16 -3.33,0.88 -8,-0.5 -3.33,-1.88 -5.66,-6.16 -1.38,-3.83" fill="#f7941d"/>
</g></g>
<rect x="1303.6" y="1547.74" width="2.9" height="23" fill="#6d6d6d"/>
<text x="1323.37" y="1568.44" font-size="22" fill="#757575" textLength="25.45" lengthAdjust="spacingAndGlyphs" stroke="#757575" stroke-width=".75">18</text>
<text x="1349.43" y="1561.24" font-size="15.5" fill="#757575" stroke="#757575" stroke-width=".6">o</text>
<rect x="1349.73" y="1563.54" width="7.9" height="1.7" fill="#757575"/>
<rect x="1381.7" y="1543.24" width="17.01" height="32" fill="url(#barg)"/>
<text x="1412.41" y="1568.84" font-size="20.6" font-weight="bold" fill="#2f7a45" textLength="54.13" lengthAdjust="spacingAndGlyphs">455,9</text>
<text x="1480.94" y="1568.84" font-size="20.6" font-weight="bold" fill="#c8951d" textLength="46.25" lengthAdjust="spacingAndGlyphs">1,3%</text>
<text x="1245.2" y="1610.36" font-size="22.3" font-weight="bold" fill="#757575" text-anchor="end" textLength="165.8" lengthAdjust="spacingAndGlyphs">Distrito Federal</text>
<g transform="translate(1275.4,1601.16)"><g clip-path="url(#fc)">
<rect x="-16.2" y="-16.2" width="32.4" height="32.4" fill="#fff"/>
<rect x="-7.7" y="-8.2" width="15.4" height="16.4" fill="#1f9a3a"/>
<rect x="-0.9" y="-7" width="1.8" height="14" fill="#f8e017"/>
<rect x="-6.5" y="-0.9" width="13" height="1.8" fill="#f8e017"/>
<polygon points="0,-3 3,0 0,3 -3,0" fill="#f8e017"/>
<polygon points="0,-1.5 1.5,0 0,1.5 -1.5,0" fill="#1f9a3a"/>
</g></g>
<rect x="1303.6" y="1589.76" width="2.9" height="23" fill="#6d6d6d"/>
<text x="1323.37" y="1610.46" font-size="22" fill="#757575" textLength="25.45" lengthAdjust="spacingAndGlyphs" stroke="#757575" stroke-width=".75">19</text>
<text x="1349.43" y="1603.26" font-size="15.5" fill="#757575" stroke="#757575" stroke-width=".6">o</text>
<rect x="1349.73" y="1605.56" width="7.9" height="1.7" fill="#757575"/>
<rect x="1381.7" y="1585.26" width="16.94" height="32" fill="url(#barg)"/>
<text x="1412.34" y="1610.86" font-size="20.6" font-weight="bold" fill="#2f7a45" textLength="54.13" lengthAdjust="spacingAndGlyphs">453,8</text>
<text x="1480.86" y="1610.86" font-size="20.6" font-weight="bold" fill="#c8951d" textLength="46.25" lengthAdjust="spacingAndGlyphs">1,3%</text>
<text x="1245.2" y="1652.38" font-size="22.3" font-weight="bold" fill="#757575" text-anchor="end" textLength="102.9" lengthAdjust="spacingAndGlyphs">Rondônia</text>
<g transform="translate(1275.4,1643.18)"><g clip-path="url(#fc)">
<rect x="-16.2" y="-16.2" width="32.4" height="32.4" fill="#f8e017"/>
<rect x="-16.2" y="-16.2" width="32.4" height="16" fill="#26297a"/>
<polygon points="0,0 18.2,13 18.2,16.2 -18.2,16.2 -18.2,13" fill="#1f9a3a"/>
<polygon points="0,-11 1.57,-6.16 6.66,-6.16 2.54,-3.17 4.11,1.66 0,-1.33 -4.11,1.66 -2.54,-3.17 -6.66,-6.16 -1.57,-6.16" fill="#fff"/>
</g></g>
<rect x="1303.6" y="1631.78" width="2.9" height="23" fill="#6d6d6d"/>
<text x="1323.37" y="1652.48" font-size="22" fill="#757575" textLength="25.45" lengthAdjust="spacingAndGlyphs" stroke="#757575" stroke-width=".75">20</text>
<text x="1349.43" y="1645.28" font-size="15.5" fill="#757575" stroke="#757575" stroke-width=".6">o</text>
<rect x="1349.73" y="1647.58" width="7.9" height="1.7" fill="#757575"/>
<rect x="1381.7" y="1627.28" width="16.45" height="32" fill="url(#barg)"/>
<text x="1411.85" y="1652.88" font-size="20.6" font-weight="bold" fill="#2f7a45" textLength="54.13" lengthAdjust="spacingAndGlyphs">440,9</text>
<text x="1480.38" y="1652.88" font-size="20.6" font-weight="bold" fill="#c8951d" textLength="46.25" lengthAdjust="spacingAndGlyphs">1,3%</text>
<text x="1245.2" y="1694.4" font-size="22.3" font-weight="bold" fill="#757575" text-anchor="end" textLength="80.4" lengthAdjust="spacingAndGlyphs">Paraíba</text>
<g transform="translate(1275.4,1685.2)"><g clip-path="url(#fc)">
<rect x="-16.2" y="-16.2" width="32.4" height="32.4" fill="#e3161f"/>
<rect x="-16.2" y="-16.2" width="10" height="32.4" fill="#0d0d0d"/>
<text x="4.5" y="1.4" font-size="3.6" font-weight="bold" fill="#fff" text-anchor="middle">NEGO</text>
</g></g>
<rect x="1303.6" y="1673.8" width="2.9" height="23" fill="#6d6d6d"/>
<text x="1323.37" y="1694.5" font-size="22" fill="#757575" textLength="25.45" lengthAdjust="spacingAndGlyphs" stroke="#757575" stroke-width=".75">21</text>
<text x="1349.43" y="1687.3" font-size="15.5" fill="#757575" stroke="#757575" stroke-width=".6">o</text>
<rect x="1349.73" y="1689.6" width="7.9" height="1.7" fill="#757575"/>
<rect x="1381.7" y="1669.3" width="16.45" height="32" fill="url(#barg)"/>
<text x="1411.85" y="1694.9" font-size="20.6" font-weight="bold" fill="#2f7a45" textLength="54.13" lengthAdjust="spacingAndGlyphs">440,8</text>
<text x="1480.38" y="1694.9" font-size="20.6" font-weight="bold" fill="#c8951d" textLength="46.25" lengthAdjust="spacingAndGlyphs">1,3%</text>
<text x="1245.2" y="1736.42" font-size="22.3" font-weight="bold" fill="#757575" text-anchor="end" textLength="83.6" lengthAdjust="spacingAndGlyphs">Alagoas</text>
<g transform="translate(1275.4,1727.22)"><g clip-path="url(#fc)">
<rect x="-16.2" y="-16.2" width="32.4" height="32.4" fill="#fff"/>
<rect x="-16.2" y="-16.2" width="8.2" height="32.4" fill="#e3261f"/>
<rect x="8" y="-16.2" width="8.5" height="32.4" fill="#2a8fdc"/>
<rect x="-4" y="-4" width="8" height="6.5" fill="#3a62b0"/>
<rect x="-4" y="-1" width="8" height="2" fill="#e3161f"/>
<rect x="-4" y="1" width="8" height="1.6" fill="#fff"/>
<path d="M-6,-4 v8 c2,3 10,3 12,0 v-8" fill="none" stroke="#3a8a4a" stroke-width="1.6"/><polygon points="0,-7.8 0.34,-6.76 1.43,-6.76 0.54,-6.12 0.88,-5.09 0,-5.73 -0.88,-5.09 -0.54,-6.12 -1.43,-6.76 -0.34,-6.76" fill="#c0c0c0"/>
</g></g>
<rect x="1303.6" y="1715.82" width="2.9" height="23" fill="#6d6d6d"/>
<text x="1323.37" y="1736.52" font-size="22" fill="#757575" textLength="25.45" lengthAdjust="spacingAndGlyphs" stroke="#757575" stroke-width=".75">22</text>
<text x="1349.43" y="1729.32" font-size="15.5" fill="#757575" stroke="#757575" stroke-width=".6">o</text>
<rect x="1349.73" y="1731.62" width="7.9" height="1.7" fill="#757575"/>
<rect x="1381.7" y="1711.32" width="15.88" height="32" fill="url(#barg)"/>
<text x="1411.28" y="1736.92" font-size="20.6" font-weight="bold" fill="#2f7a45" textLength="54.13" lengthAdjust="spacingAndGlyphs">425,6</text>
<text x="1479.81" y="1736.92" font-size="20.6" font-weight="bold" fill="#c8951d" textLength="46.25" lengthAdjust="spacingAndGlyphs">1,3%</text>
<text x="1245.2" y="1778.44" font-size="22.3" font-weight="bold" fill="#757575" text-anchor="end" textLength="110.8" lengthAdjust="spacingAndGlyphs">Amazonas</text>
<g transform="translate(1275.4,1769.24)"><g clip-path="url(#fc)">
<rect x="-16.2" y="-16.2" width="32.4" height="32.4" fill="#fff"/>
<rect x="-16.2" y="-5.5" width="32.4" height="10.5" fill="#e3161f"/>
<rect x="-16.2" y="-16.2" width="18.5" height="10.7" fill="#3a4590"/>
<circle cx="-13" cy="-14" r="0.45" fill="#cfd6ff"/>
<circle cx="-13" cy="-11" r="0.45" fill="#cfd6ff"/>
<circle cx="-13" cy="-8" r="0.45" fill="#cfd6ff"/>
<circle cx="-10" cy="-14" r="0.45" fill="#cfd6ff"/>
<circle cx="-10" cy="-11" r="0.45" fill="#cfd6ff"/>
<circle cx="-10" cy="-8" r="0.45" fill="#cfd6ff"/>
<circle cx="-7" cy="-14" r="0.45" fill="#cfd6ff"/>
<circle cx="-7" cy="-11" r="0.45" fill="#cfd6ff"/>
<circle cx="-7" cy="-8" r="0.45" fill="#cfd6ff"/>
<circle cx="-4" cy="-14" r="0.45" fill="#cfd6ff"/>
<circle cx="-4" cy="-11" r="0.45" fill="#cfd6ff"/>
<circle cx="-4" cy="-8" r="0.45" fill="#cfd6ff"/>
<circle cx="-1" cy="-14" r="0.45" fill="#cfd6ff"/>
<circle cx="-1" cy="-11" r="0.45" fill="#cfd6ff"/>
<circle cx="-1" cy="-8" r="0.45" fill="#cfd6ff"/>
<polygon points="-7,-11.5 -6.66,-10.46 -5.57,-10.46 -6.46,-9.82 -6.12,-8.79 -7,-9.43 -7.88,-8.79 -7.54,-9.82 -8.43,-10.46 -7.34,-10.46" fill="#fff"/>
</g></g>
<rect x="1303.6" y="1757.84" width="2.9" height="23" fill="#6d6d6d"/>
<text x="1323.37" y="1778.54" font-size="22" fill="#757575" textLength="25.45" lengthAdjust="spacingAndGlyphs" stroke="#757575" stroke-width=".75">23</text>
<text x="1349.43" y="1771.34" font-size="15.5" fill="#757575" stroke="#757575" stroke-width=".6">o</text>
<rect x="1349.73" y="1773.64" width="7.9" height="1.7" fill="#757575"/>
<rect x="1381.7" y="1753.34" width="8.07" height="32" fill="url(#barg)"/>
<text x="1403.47" y="1778.94" font-size="20.6" font-weight="bold" fill="#2f7a45" textLength="54.13" lengthAdjust="spacingAndGlyphs">216,2</text>
<text x="1472" y="1778.94" font-size="20.6" font-weight="bold" fill="#c8951d" textLength="46.25" lengthAdjust="spacingAndGlyphs">0,6%</text>
<text x="1245.2" y="1820.46" font-size="22.3" font-weight="bold" fill="#757575" text-anchor="end" textLength="79.9" lengthAdjust="spacingAndGlyphs">Sergipe</text>
<g transform="translate(1275.4,1811.26)"><g clip-path="url(#fc)">
<rect x="-16.2" y="-16.2" width="32.4" height="8.4" fill="#1f9a3a"/>
<rect x="-16.2" y="-8.1" width="32.4" height="8.4" fill="#fcc418"/>
<rect x="-16.2" y="0" width="32.4" height="8.4" fill="#1f9a3a"/>
<rect x="-16.2" y="8.1" width="32.4" height="8.4" fill="#fcc418"/>
<rect x="-16.2" y="-16.2" width="16.3" height="16.2" fill="#2f2a80"/>
<polygon points="-6,-9.6 -5.42,-7.8 -3.53,-7.8 -5.06,-6.69 -4.47,-4.9 -6,-6.01 -7.53,-4.9 -6.94,-6.69 -8.47,-7.8 -6.58,-7.8" fill="#fff"/>
<polygon points="-10.5,-12.8 -10.21,-11.9 -9.26,-11.9 -10.03,-11.35 -9.74,-10.45 -10.5,-11 -11.26,-10.45 -10.97,-11.35 -11.74,-11.9 -10.79,-11.9" fill="#fff"/>
<polygon points="-2.5,-12.8 -2.21,-11.9 -1.26,-11.9 -2.03,-11.35 -1.74,-10.45 -2.5,-11 -3.26,-10.45 -2.97,-11.35 -3.74,-11.9 -2.79,-11.9" fill="#fff"/>
<polygon points="-10.5,-4.3 -10.21,-3.4 -9.26,-3.4 -10.03,-2.85 -9.74,-1.95 -10.5,-2.5 -11.26,-1.95 -10.97,-2.85 -11.74,-3.4 -10.79,-3.4" fill="#fff"/>
<polygon points="-2.5,-4.3 -2.21,-3.4 -1.26,-3.4 -2.03,-2.85 -1.74,-1.95 -2.5,-2.5 -3.26,-1.95 -2.97,-2.85 -3.74,-3.4 -2.79,-3.4" fill="#fff"/>
</g></g>
<rect x="1303.6" y="1799.86" width="2.9" height="23" fill="#6d6d6d"/>
<text x="1323.37" y="1820.56" font-size="22" fill="#757575" textLength="25.45" lengthAdjust="spacingAndGlyphs" stroke="#757575" stroke-width=".75">24</text>
<text x="1349.43" y="1813.36" font-size="15.5" fill="#757575" stroke="#757575" stroke-width=".6">o</text>
<rect x="1349.73" y="1815.66" width="7.9" height="1.7" fill="#757575"/>
<rect x="1381.7" y="1795.36" width="7.79" height="32" fill="url(#barg)"/>
<text x="1403.19" y="1820.96" font-size="20.6" font-weight="bold" fill="#2f7a45" textLength="54.13" lengthAdjust="spacingAndGlyphs">208,8</text>
<text x="1471.72" y="1820.96" font-size="20.6" font-weight="bold" fill="#c8951d" textLength="46.25" lengthAdjust="spacingAndGlyphs">0,6%</text>
<text x="1245.2" y="1862.48" font-size="22.3" font-weight="bold" fill="#757575" text-anchor="end" textLength="48" lengthAdjust="spacingAndGlyphs">Acre</text>
<g transform="translate(1275.4,1853.28)"><g clip-path="url(#fc)">
<rect x="-16.2" y="-16.2" width="32.4" height="32.4" fill="#f8e72a"/>
<polygon points="18.2,-10.5 18.2,18.2 -18.2,18.2 -18.2,10.5" fill="#1f9a3a"/>
<polygon points="-8.3,-12.1 -7.67,-10.17 -5.64,-10.17 -7.28,-8.97 -6.65,-7.03 -8.3,-8.23 -9.95,-7.03 -9.32,-8.97 -10.96,-10.17 -8.93,-10.17" fill="#e3161f"/>
</g></g>
<rect x="1303.6" y="1841.88" width="2.9" height="23" fill="#6d6d6d"/>
<text x="1323.37" y="1862.58" font-size="22" fill="#757575" textLength="25.45" lengthAdjust="spacingAndGlyphs" stroke="#757575" stroke-width=".75">25</text>
<text x="1349.43" y="1855.38" font-size="15.5" fill="#757575" stroke="#757575" stroke-width=".6">o</text>
<rect x="1349.73" y="1857.68" width="7.9" height="1.7" fill="#757575"/>
<rect x="1381.7" y="1837.38" width="4.11" height="32" fill="url(#barg)"/>
<text x="1399.51" y="1862.98" font-size="20.6" font-weight="bold" fill="#2f7a45" textLength="52.94" lengthAdjust="spacingAndGlyphs">110,0</text>
<text x="1466.84" y="1862.98" font-size="20.6" font-weight="bold" fill="#c8951d" textLength="46.25" lengthAdjust="spacingAndGlyphs">0,3%</text>
<text x="1245.2" y="1904.5" font-size="22.3" font-weight="bold" fill="#757575" text-anchor="end" textLength="76.2" lengthAdjust="spacingAndGlyphs">Amapá</text>
<g transform="translate(1275.4,1895.3)"><g clip-path="url(#fc)">
<rect x="-16.2" y="-16.2" width="32.4" height="32.4" fill="#1f9a48"/>
<polygon points="-16.2,-16.2 16.2,-16.2 16.2,-6 -5,-6 -11,-12" fill="#26297a"/>
<polygon points="-16.2,16.2 16.2,16.2 16.2,6 -5,6 -11,12" fill="#f8e72a"/>
<path d="M-11.5,-12.3 L-5,-6 H17 M-11.5,12.3 L-5,6 H17" fill="none" stroke="#3a3a3a" stroke-width="1.1"/>
<path d="M-11.5,-12.3 L-5,-6 H17" fill="none" stroke="#ddd" stroke-width=".4" transform="translate(0,-.7)"/>
<path d="M-9,-2.5 l2.5,2.5 l-2.5,2.5 l-2.5,-2.5 z" fill="none" stroke="#7fbf8f" stroke-width=".7"/>
</g></g>
<rect x="1303.6" y="1883.9" width="2.9" height="23" fill="#6d6d6d"/>
<text x="1323.37" y="1904.6" font-size="22" fill="#757575" textLength="25.45" lengthAdjust="spacingAndGlyphs" stroke="#757575" stroke-width=".75">26</text>
<text x="1349.43" y="1897.4" font-size="15.5" fill="#757575" stroke="#757575" stroke-width=".6">o</text>
<rect x="1349.73" y="1899.7" width="7.9" height="1.7" fill="#757575"/>
<rect x="1381.7" y="1879.4" width="3.35" height="32" fill="url(#barg)"/>
<text x="1398.75" y="1905" font-size="20.6" font-weight="bold" fill="#2f7a45" textLength="42.1" lengthAdjust="spacingAndGlyphs">89,7</text>
<text x="1455.25" y="1905" font-size="20.6" font-weight="bold" fill="#c8951d" textLength="46.25" lengthAdjust="spacingAndGlyphs">0,3%</text>
<text x="1245.2" y="1946.52" font-size="22.3" font-weight="bold" fill="#757575" text-anchor="end" textLength="89.3" lengthAdjust="spacingAndGlyphs">Roraima</text>
<g transform="translate(1275.4,1937.32)"><g clip-path="url(#fc)">
<rect x="-16.2" y="-16.2" width="32.4" height="32.4" fill="#fff"/>
<polygon points="-16.2,-16.2 8,-16.2 -16.2,3" fill="#3f9fe0"/>
<polygon points="16.2,16.2 -8,16.2 16.2,-2" fill="#1f8f3a"/>
<polygon points="0,-9.7 2.29,-2.65 9.7,-2.65 3.71,1.7 6,8.75 0,4.4 -6,8.75 -3.71,1.7 -9.7,-2.65 -2.29,-2.65" fill="#fbbf1c"/>
<rect x="-12" y="10.6" width="24" height="1.5" fill="#e3161f"/>
</g></g>
<rect x="1303.6" y="1925.92" width="2.9" height="23" fill="#6d6d6d"/>
<text x="1323.37" y="1946.62" font-size="22" fill="#757575" textLength="25.45" lengthAdjust="spacingAndGlyphs" stroke="#757575" stroke-width=".75">27</text>
<text x="1349.43" y="1939.42" font-size="15.5" fill="#757575" stroke="#757575" stroke-width=".6">o</text>
<rect x="1349.73" y="1941.72" width="7.9" height="1.7" fill="#757575"/>
<rect x="1381.7" y="1921.42" width="3.02" height="32" fill="url(#barg)"/>
<text x="1398.42" y="1947.02" font-size="20.6" font-weight="bold" fill="#2f7a45" textLength="42.1" lengthAdjust="spacingAndGlyphs">80,9</text>
<text x="1454.92" y="1947.02" font-size="20.6" font-weight="bold" fill="#c8951d" textLength="46.25" lengthAdjust="spacingAndGlyphs">0,2%</text>
<text x="1028.7" y="2013.4" font-size="37.5" font-weight="bold" fill="#11693a" textLength="325.3" lengthAdjust="spacingAndGlyphs">Ranking Municipal</text>
<rect x="1025.8" y="2027.3" width="698" height="2.6" fill="#1b7a43"/>
<text x="1722.2" y="2019.8" font-size="17.5" fill="#555" text-anchor="end" textLength="251.3" lengthAdjust="spacingAndGlyphs">Fonte: ANEEL/ABSOLAR, 2024.</text>
<text x="1367.4" y="2071.5" font-size="26" font-weight="bold" fill="#3b8449" textLength="300.6" lengthAdjust="spacingAndGlyphs">Potência Instalada (MW)</text>
<text x="1690.2" y="2071.5" font-size="26" font-weight="bold" fill="#c79a1b" textLength="38" lengthAdjust="spacingAndGlyphs">(%)</text>
<rect x="1371.6" y="2085.83" width="1.4" height="429.4" fill="#d2d2d2"/>
<rect x="1368.8" y="2086.13" width="3.5" height="1.4" fill="#d2d2d2"/>
<rect x="1368.8" y="2128.87" width="3.5" height="1.4" fill="#d2d2d2"/>
<rect x="1368.8" y="2171.61" width="3.5" height="1.4" fill="#d2d2d2"/>
<rect x="1368.8" y="2214.35" width="3.5" height="1.4" fill="#d2d2d2"/>
<rect x="1368.8" y="2257.09" width="3.5" height="1.4" fill="#d2d2d2"/>
<rect x="1368.8" y="2299.83" width="3.5" height="1.4" fill="#d2d2d2"/>
<rect x="1368.8" y="2342.57" width="3.5" height="1.4" fill="#d2d2d2"/>
<rect x="1368.8" y="2385.31" width="3.5" height="1.4" fill="#d2d2d2"/>
<rect x="1368.8" y="2428.05" width="3.5" height="1.4" fill="#d2d2d2"/>
<rect x="1368.8" y="2470.79" width="3.5" height="1.4" fill="#d2d2d2"/>
<rect x="1368.8" y="2513.53" width="3.5" height="1.4" fill="#d2d2d2"/>
<text x="1236" y="2117.3" font-size="22.3" font-weight="bold" fill="#757575" text-anchor="end" textLength="128.3" lengthAdjust="spacingAndGlyphs">Brasília - DF</text>
<g transform="translate(1266.9,2108.1)"><g clip-path="url(#fc)">
<rect x="-16.2" y="-16.2" width="32.4" height="32.4" fill="#1f9a48"/>
<g transform="rotate(0)"><path d="M-1.6,-4 L-1.8,-11 L-0.9,-13 L0,-15.5 L0.9,-13 L1.8,-11 L1.6,-4 Z" fill="#fbc618"/></g>
<g transform="rotate(90)"><path d="M-1.6,-4 L-1.8,-11 L-0.9,-13 L0,-15.5 L0.9,-13 L1.8,-11 L1.6,-4 Z" fill="#fbc618"/></g>
<g transform="rotate(180)"><path d="M-1.6,-4 L-1.8,-11 L-0.9,-13 L0,-15.5 L0.9,-13 L1.8,-11 L1.6,-4 Z" fill="#fbc618"/></g>
<g transform="rotate(270)"><path d="M-1.6,-4 L-1.8,-11 L-0.9,-13 L0,-15.5 L0.9,-13 L1.8,-11 L1.6,-4 Z" fill="#fbc618"/></g>
<circle cx="0" cy="0" r="3.3" fill="#1f9a48"/>
</g></g>
<rect x="1295.1" y="2096.7" width="2.9" height="23" fill="#6d6d6d"/>
<g transform="translate(1333.4,2110.2)"><polygon points="0,-16.8 1.74,-14.3 4.02,-16.31 5.11,-13.46 7.81,-14.88 8.18,-11.85 11.14,-12.57 10.78,-9.55 13.83,-9.54 12.75,-6.69 15.71,-5.96 13.98,-3.45 16.68,-2.03 14.4,0 16.68,2.03 13.98,3.45 15.71,5.96 12.75,6.69 13.83,9.54 10.78,9.55 11.14,12.57 8.18,11.85 7.81,14.88 5.11,13.46 4.02,16.31 1.74,14.3 0,16.8 -1.74,14.3 -4.02,16.31 -5.11,13.46 -7.81,14.88 -8.18,11.85 -11.14,12.57 -10.78,9.55 -13.83,9.54 -12.75,6.69 -15.71,5.96 -13.98,3.45 -16.68,2.03 -14.4,0 -16.68,-2.03 -13.98,-3.45 -15.71,-5.96 -12.75,-6.69 -13.83,-9.54 -10.78,-9.55 -11.14,-12.57 -8.18,-11.85 -7.81,-14.88 -5.11,-13.46 -4.02,-16.31 -1.74,-14.3" fill="#f7b51a"/>
<circle cx="0" cy="0" r="13.2" fill="url(#md1)"/>
<circle cx="0" cy="0" r="9.2" fill="#ec9a12" opacity=".55"/>
<text x="0" y="6.3" font-size="18" font-weight="bold" font-family="Liberation Serif" fill="#e58e10" text-anchor="middle">1</text>
</g>
<rect x="1374.8" y="2092.2" width="183.3" height="32" fill="url(#barg)"/>
<text x="1574.19" y="2117.8" font-size="20.6" font-weight="bold" fill="#2f7a45" textLength="54.13" lengthAdjust="spacingAndGlyphs">453,8</text>
<text x="1642.72" y="2117.8" font-size="20.6" font-weight="bold" fill="#c8951d" textLength="46.25" lengthAdjust="spacingAndGlyphs">1,3%</text>
<text x="1236" y="2160.04" font-size="22.3" font-weight="bold" fill="#757575" text-anchor="end" textLength="132" lengthAdjust="spacingAndGlyphs">Cuiabá - MT</text>
<g transform="translate(1266.9,2150.84)"><g clip-path="url(#fc)">
<rect x="-16.2" y="-16.2" width="32.4" height="32.4" fill="#fff"/>
<rect x="-16.2" y="-16.2" width="13" height="32.4" fill="#1f9a48"/>
<path d="M-6,-5.8 h8.6 v6.5 c0,4 -4.3,5.6 -4.3,5.6 c0,0 -4.3,-1.6 -4.3,-5.6 z" fill="#fff" stroke="#e08a1c" stroke-width="1.3"/>
<polygon points="-1.7,-3.5 0.6,2.8 -4,2.8" fill="#1f9a48"/>
</g></g>
<rect x="1295.1" y="2139.44" width="2.9" height="23" fill="#6d6d6d"/>
<g transform="translate(1333.4,2152.94)"><polygon points="0,-16.8 1.74,-14.3 4.02,-16.31 5.11,-13.46 7.81,-14.88 8.18,-11.85 11.14,-12.57 10.78,-9.55 13.83,-9.54 12.75,-6.69 15.71,-5.96 13.98,-3.45 16.68,-2.03 14.4,0 16.68,2.03 13.98,3.45 15.71,5.96 12.75,6.69 13.83,9.54 10.78,9.55 11.14,12.57 8.18,11.85 7.81,14.88 5.11,13.46 4.02,16.31 1.74,14.3 0,16.8 -1.74,14.3 -4.02,16.31 -5.11,13.46 -7.81,14.88 -8.18,11.85 -11.14,12.57 -10.78,9.55 -13.83,9.54 -12.75,6.69 -15.71,5.96 -13.98,3.45 -16.68,2.03 -14.4,0 -16.68,-2.03 -13.98,-3.45 -15.71,-5.96 -12.75,-6.69 -13.83,-9.54 -10.78,-9.55 -11.14,-12.57 -8.18,-11.85 -7.81,-14.88 -5.11,-13.46 -4.02,-16.31 -1.74,-14.3" fill="#9a9a9a"/>
<circle cx="0" cy="0" r="13.2" fill="url(#md2)"/>
<circle cx="0" cy="0" r="9.2" fill="#858585" opacity=".55"/>
<text x="0" y="6.3" font-size="18" font-weight="bold" font-family="Liberation Serif" fill="#7a7a7a" text-anchor="middle">2</text>
</g>
<rect x="1374.8" y="2134.94" width="143.47" height="32" fill="url(#barg)"/>
<text x="1531.97" y="2160.54" font-size="20.6" font-weight="bold" fill="#2f7a45" textLength="54.13" lengthAdjust="spacingAndGlyphs">350,6</text>
<text x="1600.49" y="2160.54" font-size="20.6" font-weight="bold" fill="#c8951d" textLength="46.25" lengthAdjust="spacingAndGlyphs">1,0%</text>
<text x="1236" y="2202.78" font-size="22.3" font-weight="bold" fill="#757575" text-anchor="end" textLength="220" lengthAdjust="spacingAndGlyphs">Campo Grande - MS</text>
<g transform="translate(1266.9,2193.58)"><g clip-path="url(#fc)">
<rect x="-16.2" y="-16.2" width="32.4" height="32.4" fill="#1f56b0"/>
<g transform="rotate(0)"><rect x="-18.2" y="-1.6" width="36.4" height="3.2" fill="#fbd918"/>
<rect x="-18.2" y="-0.6" width="36.4" height="1.2" fill="#e8412a"/>
</g>
<g transform="rotate(90)"><rect x="-18.2" y="-1.6" width="36.4" height="3.2" fill="#fbd918"/>
<rect x="-18.2" y="-0.6" width="36.4" height="1.2" fill="#e8412a"/>
</g>
<g transform="rotate(33)"><rect x="-18.2" y="-1.6" width="36.4" height="3.2" fill="#fbd918"/>
<rect x="-18.2" y="-0.6" width="36.4" height="1.2" fill="#e8412a"/>
</g>
<g transform="rotate(-33)"><rect x="-18.2" y="-1.6" width="36.4" height="3.2" fill="#fbd918"/>
<rect x="-18.2" y="-0.6" width="36.4" height="1.2" fill="#e8412a"/>
</g>
<path d="M-9.5,-5 C-5,-7 5,-7 9.5,-5 L8,4 C3,7.5 -3,7.5 -8,4 Z" fill="#fbe018"/>
<rect x="-2.8" y="-3.3" width="5.6" height="6.3" fill="#2f5fb0"/>
<rect x="-2.8" y="-5.6" width="5.6" height="2.3" fill="#9aa0b5"/>
<circle cx="0" cy="-0.2" r="1.2" fill="#f8e017"/>
</g></g>
<rect x="1295.1" y="2182.18" width="2.9" height="23" fill="#6d6d6d"/>
<g transform="translate(1333.4,2195.68)"><polygon points="0,-16.8 1.74,-14.3 4.02,-16.31 5.11,-13.46 7.81,-14.88 8.18,-11.85 11.14,-12.57 10.78,-9.55 13.83,-9.54 12.75,-6.69 15.71,-5.96 13.98,-3.45 16.68,-2.03 14.4,0 16.68,2.03 13.98,3.45 15.71,5.96 12.75,6.69 13.83,9.54 10.78,9.55 11.14,12.57 8.18,11.85 7.81,14.88 5.11,13.46 4.02,16.31 1.74,14.3 0,16.8 -1.74,14.3 -4.02,16.31 -5.11,13.46 -7.81,14.88 -8.18,11.85 -11.14,12.57 -10.78,9.55 -13.83,9.54 -12.75,6.69 -15.71,5.96 -13.98,3.45 -16.68,2.03 -14.4,0 -16.68,-2.03 -13.98,-3.45 -15.71,-5.96 -12.75,-6.69 -13.83,-9.54 -10.78,-9.55 -11.14,-12.57 -8.18,-11.85 -7.81,-14.88 -5.11,-13.46 -4.02,-16.31 -1.74,-14.3" fill="#c04a20"/>
<circle cx="0" cy="0" r="13.2" fill="url(#md3)"/>
<circle cx="0" cy="0" r="9.2" fill="#ad3c18" opacity=".55"/>
<text x="0" y="6.3" font-size="18" font-weight="bold" font-family="Liberation Serif" fill="#9a3514" text-anchor="middle">3</text>
</g>
<rect x="1374.8" y="2177.68" width="133.89" height="32" fill="url(#barg)"/>
<text x="1522.39" y="2203.28" font-size="20.6" font-weight="bold" fill="#2f7a45" textLength="54.13" lengthAdjust="spacingAndGlyphs">327,2</text>
<text x="1590.92" y="2203.28" font-size="20.6" font-weight="bold" fill="#c8951d" textLength="46.25" lengthAdjust="spacingAndGlyphs">1,0%</text>
<text x="1236" y="2245.52" font-size="22.3" font-weight="bold" fill="#757575" text-anchor="end" textLength="132" lengthAdjust="spacingAndGlyphs">Teresina - PI</text>
<g transform="translate(1266.9,2236.32)"><g clip-path="url(#fc)">
<rect x="-16.2" y="-16.2" width="32.4" height="32.4" fill="#fff"/>
<polygon points="-17.2,-5 -6,-7.5 -4,8 -17.2,9" fill="#26459e"/>
<polygon points="17.2,-5 6,-7.5 4,8 17.2,9" fill="#26459e"/>
<rect x="-4" y="-10.5" width="8" height="4.5" fill="#e6b52a"/>
<path d="M-4.8,-6 h9.6 v8 c0,3.5 -4.8,5 -4.8,5 c0,0 -4.8,-1.5 -4.8,-5 z" fill="#bcd4ee" stroke="#ccc" stroke-width=".5"/><rect x="-1.3" y="-4" width="2.6" height="4.5" fill="#e0574a"/>
<path d="M-9.5,6.5 C-4,10.5 4,10.5 9.5,6.5" fill="none" stroke="#e3161f" stroke-width="1.8"/>
<path d="M-9,2 L-5,7 M9,2 L5,7" stroke="#111" stroke-width="2"/>
<path d="M-5,13.5 L5,9.5 M5,13.5 L-5,9.5" stroke="#555" stroke-width=".7"/>
</g></g>
<rect x="1295.1" y="2224.92" width="2.9" height="23" fill="#6d6d6d"/>
<text x="1322.44" y="2245.62" font-size="22" fill="#757575" textLength="12.73" lengthAdjust="spacingAndGlyphs" stroke="#757575" stroke-width=".75">4</text>
<text x="1335.76" y="2238.42" font-size="15.5" fill="#757575" stroke="#757575" stroke-width=".6">o</text>
<rect x="1336.06" y="2240.72" width="7.9" height="1.7" fill="#757575"/>
<rect x="1374.8" y="2220.42" width="117.64" height="32" fill="url(#barg)"/>
<text x="1506.14" y="2246.02" font-size="20.6" font-weight="bold" fill="#2f7a45" textLength="54.13" lengthAdjust="spacingAndGlyphs">287,5</text>
<text x="1574.67" y="2246.02" font-size="20.6" font-weight="bold" fill="#c8951d" textLength="46.25" lengthAdjust="spacingAndGlyphs">0,8%</text>
<text x="1236" y="2288.26" font-size="22.3" font-weight="bold" fill="#757575" text-anchor="end" textLength="139.8" lengthAdjust="spacingAndGlyphs">Goiânia - GO</text>
<g transform="translate(1266.9,2279.06)"><g clip-path="url(#fc)">
<rect x="-16.2" y="-16.2" width="32.4" height="32.4" fill="#1f9a48"/>
<g transform="rotate(0)"><rect x="-18.2" y="-0.55" width="36.4" height="1.1" fill="#f0604a"/>
</g>
<g transform="rotate(90)"><rect x="-18.2" y="-0.55" width="36.4" height="1.1" fill="#f0604a"/>
</g>
<g transform="rotate(35)"><rect x="-18.2" y="-0.55" width="36.4" height="1.1" fill="#f0604a"/>
</g>
<g transform="rotate(-35)"><rect x="-18.2" y="-0.55" width="36.4" height="1.1" fill="#f0604a"/>
</g>
<rect x="-8.8" y="-5.8" width="17.6" height="11.6" fill="#fff"/>
<rect x="-4.5" y="-3.6" width="9" height="6.6" fill="#6a9fc0" rx="1.5"/>
<rect x="-2.6" y="-2.2" width="5.2" height="3.8" fill="#5fae3a"/>
<rect x="-5" y="3.2" width="10" height="1" fill="#888"/>
</g></g>
<rect x="1295.1" y="2267.66" width="2.9" height="23" fill="#6d6d6d"/>
<text x="1322.44" y="2288.36" font-size="22" fill="#757575" textLength="12.73" lengthAdjust="spacingAndGlyphs" stroke="#757575" stroke-width=".75">5</text>
<text x="1335.76" y="2281.16" font-size="15.5" fill="#757575" stroke="#757575" stroke-width=".6">o</text>
<rect x="1336.06" y="2283.46" width="7.9" height="1.7" fill="#757575"/>
<rect x="1374.8" y="2263.16" width="110.57" height="32" fill="url(#barg)"/>
<text x="1499.07" y="2288.76" font-size="20.6" font-weight="bold" fill="#2f7a45" textLength="54.13" lengthAdjust="spacingAndGlyphs">270,2</text>
<text x="1567.59" y="2288.76" font-size="20.6" font-weight="bold" fill="#c8951d" textLength="46.25" lengthAdjust="spacingAndGlyphs">0,8%</text>
<text x="1236" y="2331" font-size="22.3" font-weight="bold" fill="#757575" text-anchor="end" textLength="198.5" lengthAdjust="spacingAndGlyphs">Rio de Janeiro - RJ</text>
<g transform="translate(1266.9,2321.8)"><g clip-path="url(#fc)">
<rect x="-16.2" y="-16.2" width="32.4" height="32.4" fill="#fff"/>
<path d="M-13.5,-9.5 L13.5,9.5 M13.5,-9.5 L-13.5,9.5" stroke="#3a8fdc" stroke-width="3.6"/>
<path d="M-6,-6.5 C-6,-10 6,-10 6,-6.5 L8,-3 L8,5 C5,8.5 -5,8.5 -8,5 L-8,-3 Z" fill="#c0141c"/>
<circle cx="0" cy="-0.5" r="2.8" fill="#d96060"/>
<circle cx="0" cy="-0.5" r="1.3" fill="#6fb0b0"/>
<circle cx="0" cy="4.6" r="1.6" fill="#d96060"/>
</g></g>
<rect x="1295.1" y="2310.4" width="2.9" height="23" fill="#6d6d6d"/>
<text x="1322.44" y="2331.1" font-size="22" fill="#757575" textLength="12.73" lengthAdjust="spacingAndGlyphs" stroke="#757575" stroke-width=".75">6</text>
<text x="1335.76" y="2323.9" font-size="15.5" fill="#757575" stroke="#757575" stroke-width=".6">o</text>
<rect x="1336.06" y="2326.2" width="7.9" height="1.7" fill="#757575"/>
<rect x="1374.8" y="2305.9" width="108.48" height="32" fill="url(#barg)"/>
<text x="1496.98" y="2331.5" font-size="20.6" font-weight="bold" fill="#2f7a45" textLength="54.13" lengthAdjust="spacingAndGlyphs">265,1</text>
<text x="1565.51" y="2331.5" font-size="20.6" font-weight="bold" fill="#c8951d" textLength="46.25" lengthAdjust="spacingAndGlyphs">0,8%</text>
<text x="1236" y="2373.74" font-size="22.3" font-weight="bold" fill="#757575" text-anchor="end" textLength="147.2" lengthAdjust="spacingAndGlyphs">Fortaleza - CE</text>
<g transform="translate(1266.9,2364.54)"><g clip-path="url(#fc)">
<rect x="-16.2" y="-16.2" width="32.4" height="32.4" fill="#fff"/>
<path d="M-13.5,-9.5 L13.5,9.5 M13.5,-9.5 L-13.5,9.5" stroke="#3a3aa8" stroke-width="3.4"/>
<path d="M-5.6,-6 h11.2 v7 c0,4.5 -5.6,6 -5.6,6 c0,0 -5.6,-1.5 -5.6,-6 z" fill="#3fb4e0"/>
<rect x="-3.2" y="-7.6" width="6.4" height="1.8" fill="#b58a2a"/>
<polygon points="-2,2.5 -2,-1.5 0,-3.2 2,-1.5 2,2.5" fill="#c98a1a"/>
<rect x="-0.8" y="0" width="1.6" height="2.5" fill="#222"/>
<path d="M-8.5,1 C-8,7 -3,9.5 0,9.5 C3,9.5 8,7 8.5,1" fill="none" stroke="#3fae8a" stroke-width="1.8"/>
</g></g>
<rect x="1295.1" y="2353.14" width="2.9" height="23" fill="#6d6d6d"/>
<text x="1322.44" y="2373.84" font-size="22" fill="#757575" textLength="12.73" lengthAdjust="spacingAndGlyphs" stroke="#757575" stroke-width=".75">7</text>
<text x="1335.76" y="2366.64" font-size="15.5" fill="#757575" stroke="#757575" stroke-width=".6">o</text>
<rect x="1336.06" y="2368.94" width="7.9" height="1.7" fill="#757575"/>
<rect x="1374.8" y="2348.64" width="105.21" height="32" fill="url(#barg)"/>
<text x="1493.71" y="2374.24" font-size="20.6" font-weight="bold" fill="#2f7a45" textLength="54.13" lengthAdjust="spacingAndGlyphs">257,1</text>
<text x="1562.23" y="2374.24" font-size="20.6" font-weight="bold" fill="#c8951d" textLength="46.25" lengthAdjust="spacingAndGlyphs">0,8%</text>
<text x="1236" y="2416.48" font-size="22.3" font-weight="bold" fill="#757575" text-anchor="end" textLength="117.8" lengthAdjust="spacingAndGlyphs">Belém - PA</text>
<g transform="translate(1266.9,2407.28)"><g clip-path="url(#fc)">
<rect x="-16.2" y="-16.2" width="32.4" height="32.4" fill="#1f2558"/>
<path d="M-8.5,-8.5 H8.5 L7.5,-5.5 V4 C6,8.5 -6,8.5 -7.5,4 V-5.5 Z" fill="#e6dde0"/>
<rect x="-7" y="-5.5" width="6.5" height="6" fill="#c9b6c6"/>
<rect x="-0.3" y="-5.5" width="7" height="6" fill="#f2f0f0"/>
<circle cx="1.6" cy="-3.8" r="1.9" fill="#f2c81c"/>
<rect x="-7" y="0.6" width="6.5" height="5.5" fill="#a86a4a"/>
<rect x="-0.3" y="0.6" width="7" height="5.5" fill="#9a4a2a"/>
<circle cx="2.8" cy="-0.2" r="1.8" fill="#b0a6d0"/>
<rect x="-1.2" y="-7.5" width="1.6" height="15" fill="#3a2a3a"/>
</g></g>
<rect x="1295.1" y="2395.88" width="2.9" height="23" fill="#6d6d6d"/>
<text x="1322.44" y="2416.58" font-size="22" fill="#757575" textLength="12.73" lengthAdjust="spacingAndGlyphs" stroke="#757575" stroke-width=".75">8</text>
<text x="1335.76" y="2409.38" font-size="15.5" fill="#757575" stroke="#757575" stroke-width=".6">o</text>
<rect x="1336.06" y="2411.68" width="7.9" height="1.7" fill="#757575"/>
<rect x="1374.8" y="2391.38" width="74.88" height="32" fill="url(#barg)"/>
<text x="1463.38" y="2416.98" font-size="20.6" font-weight="bold" fill="#2f7a45" textLength="54.13" lengthAdjust="spacingAndGlyphs">183,0</text>
<text x="1531.91" y="2416.98" font-size="20.6" font-weight="bold" fill="#c8951d" textLength="46.25" lengthAdjust="spacingAndGlyphs">0,5%</text>
<text x="1236" y="2459.22" font-size="22.3" font-weight="bold" fill="#757575" text-anchor="end" textLength="147.2" lengthAdjust="spacingAndGlyphs">Manaus - AM</text>
<g transform="translate(1266.9,2450.02)"><g clip-path="url(#fc)">
<rect x="-16.2" y="-16.2" width="32.4" height="32.4" fill="#fcf3c4"/>
<path d="M-6.5,-3.5 L0,-7.5 L6.5,-3.5 L5,8 L0,10.5 L-5,8 Z" fill="#f0b040"/>
<circle cx="0" cy="-8" r="2" fill="#f0b040"/>
<polygon points="-9.5,-2 -6,-4.5 -6,-1" fill="#f0b040"/>
<polygon points="9.5,-2 6,-4.5 6,-1" fill="#f0b040"/>
<path d="M-4,-3 h8 v6 c0,3 -4,4.5 -4,4.5 c0,0 -4,-1.5 -4,-4.5 z" fill="#3fb0d0"/><rect x="-4" y="-3" width="4" height="3.8" fill="#4a9a4a"/>
<rect x="-4" y="1" width="8" height="1.4" fill="#e8c040"/>
<rect x="-1.2" y="-2" width="2" height="3" fill="#c0483a"/>
<rect x="-3" y="8.5" width="6" height="1.2" fill="#e06a3a"/>
</g></g>
<rect x="1295.1" y="2438.62" width="2.9" height="23" fill="#6d6d6d"/>
<text x="1322.44" y="2459.32" font-size="22" fill="#757575" textLength="12.73" lengthAdjust="spacingAndGlyphs" stroke="#757575" stroke-width=".75">9</text>
<text x="1335.76" y="2452.12" font-size="15.5" fill="#757575" stroke="#757575" stroke-width=".6">o</text>
<rect x="1336.06" y="2454.42" width="7.9" height="1.7" fill="#757575"/>
<rect x="1374.8" y="2434.12" width="72.18" height="32" fill="url(#barg)"/>
<text x="1460.68" y="2459.72" font-size="20.6" font-weight="bold" fill="#2f7a45" textLength="54.13" lengthAdjust="spacingAndGlyphs">176,4</text>
<text x="1529.21" y="2459.72" font-size="20.6" font-weight="bold" fill="#c8951d" textLength="46.25" lengthAdjust="spacingAndGlyphs">0,5%</text>
<text x="1236" y="2501.96" font-size="22.3" font-weight="bold" fill="#757575" text-anchor="end" textLength="181.7" lengthAdjust="spacingAndGlyphs">Uberlândia - MG</text>
<g transform="translate(1266.9,2492.76)"><g clip-path="url(#fc)">
<rect x="-16.2" y="-16.2" width="32.4" height="32.4" fill="#1f5fb8"/>
<rect x="-16.2" y="4.6" width="32.4" height="16.2" fill="#14a03c"/>
<line x1="0" y1="4.8" x2="0" y2="-25.2" stroke="#fff" stroke-width="0.8"/>
<line x1="0" y1="4.8" x2="13.02" y2="-22.23" stroke="#fff" stroke-width="0.8"/>
<line x1="0" y1="4.8" x2="23.45" y2="-13.9" stroke="#fff" stroke-width="0.8"/>
<line x1="0" y1="4.8" x2="29.25" y2="-1.88" stroke="#fff" stroke-width="0.8"/>
<line x1="0" y1="4.8" x2="29.25" y2="11.48" stroke="#fff" stroke-width="0.8"/>
<line x1="0" y1="4.8" x2="23.45" y2="23.5" stroke="#fff" stroke-width="0.8"/>
<line x1="0" y1="4.8" x2="13.02" y2="31.83" stroke="#fff" stroke-width="0.8"/>
<line x1="0" y1="4.8" x2="0" y2="34.8" stroke="#fff" stroke-width="0.8"/>
<line x1="0" y1="4.8" x2="-13.02" y2="31.83" stroke="#fff" stroke-width="0.8"/>
<line x1="0" y1="4.8" x2="-23.45" y2="23.5" stroke="#fff" stroke-width="0.8"/>
<line x1="0" y1="4.8" x2="-29.25" y2="11.48" stroke="#fff" stroke-width="0.8"/>
<line x1="0" y1="4.8" x2="-29.25" y2="-1.88" stroke="#fff" stroke-width="0.8"/>
<line x1="0" y1="4.8" x2="-23.45" y2="-13.9" stroke="#fff" stroke-width="0.8"/>
<line x1="0" y1="4.8" x2="-13.02" y2="-22.23" stroke="#fff" stroke-width="0.8"/>
<circle cx="0" cy="4.8" r="3" fill="#fff"/>
<circle cx="0" cy="4.8" r="2.3" fill="#f8d21c"/>
<circle cx="0" cy="4.8" r="1.1" fill="#f0a01c"/>
</g></g>
<rect x="1295.1" y="2481.36" width="2.9" height="23" fill="#6d6d6d"/>
<text x="1316.07" y="2502.06" font-size="22" fill="#757575" textLength="25.45" lengthAdjust="spacingAndGlyphs" stroke="#757575" stroke-width=".75">10</text>
<text x="1342.13" y="2494.86" font-size="15.5" fill="#757575" stroke="#757575" stroke-width=".6">o</text>
<rect x="1342.43" y="2497.16" width="7.9" height="1.7" fill="#757575"/>
<rect x="1374.8" y="2476.86" width="70.1" height="32" fill="url(#barg)"/>
<text x="1458.6" y="2502.46" font-size="20.6" font-weight="bold" fill="#2f7a45" textLength="54.13" lengthAdjust="spacingAndGlyphs">171,3</text>
<text x="1527.13" y="2502.46" font-size="20.6" font-weight="bold" fill="#c8951d" textLength="46.25" lengthAdjust="spacingAndGlyphs">0,5%</text>
</svg>
</body></html>
